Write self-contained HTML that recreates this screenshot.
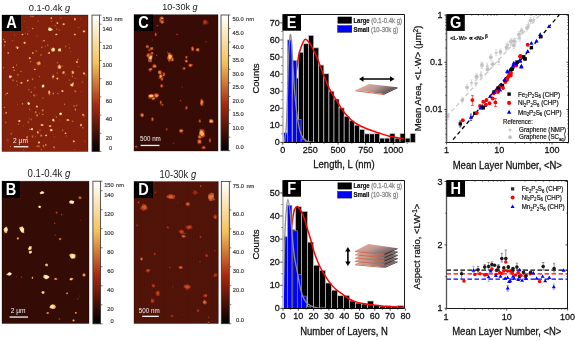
<!DOCTYPE html>
<html><head><meta charset="utf-8"><style>
html,body{margin:0;padding:0;background:#fff;overflow:hidden;}
svg{display:block;font-family:"Liberation Sans",sans-serif;will-change:transform;}
</style></head><body>
<svg width="575" height="341" viewBox="0 0 575 341" font-family="Liberation Sans, sans-serif"><defs><filter id="blur" x="-50%" y="-50%" width="200%" height="200%"><feGaussianBlur stdDeviation="0.45"/></filter><filter id="blur2" x="-50%" y="-50%" width="200%" height="200%"><feGaussianBlur stdDeviation="0.8"/></filter><pattern id="streak" width="3" height="4" patternUnits="userSpaceOnUse"><rect x="0" y="0" width="1" height="4" fill="#000" opacity="0.07"/></pattern><linearGradient id="cbg" x1="0" y1="0" x2="0" y2="1"><stop offset="0.000" stop-color="rgb(255, 255, 255)"/><stop offset="0.350" stop-color="rgb(243, 194, 93)"/><stop offset="0.660" stop-color="rgb(168, 40, 15)"/><stop offset="1.000" stop-color="rgb(0, 0, 0)"/></linearGradient></defs><rect x="2.00" y="15.00" width="86.00" height="136.50" fill="#84210d" />
<rect x="2" y="15" width="86" height="136.5" fill="url(#streak)" opacity="0.3"/>
<polygon points="49.68,31.07 47.89,30.00 48.65,27.32 50.63,27.71 52.66,29.30 52.26,30.52" fill="#f5cd7a" filter="url(#blur)"/>
<polygon points="51.74,29.47 50.50,30.81 49.38,30.18 48.67,29.72 49.15,28.74 50.71,28.13 51.38,28.63" fill="#fdf6e8" filter="url(#blur)"/>
<polygon points="57.99,24.07 57.47,24.05 56.26,23.56 56.42,22.65 56.76,22.12 57.82,21.96 58.36,22.92" fill="#d5843e" filter="url(#blur)"/>
<polygon points="57.40,22.66 57.97,22.65 58.17,23.55 57.61,23.82 56.91,23.68 56.85,23.08 57.07,22.67" fill="#f5cb74" filter="url(#blur)"/>
<polygon points="62.27,23.65 63.43,23.46 64.87,23.44 64.77,24.53 64.08,25.13 63.02,24.90 62.57,24.19" fill="#de9747" filter="url(#blur)"/>
<polygon points="64.26,23.63 64.24,24.19 64.15,24.58 63.75,24.91 62.84,24.64 62.92,24.07 63.14,23.53" fill="#f6d38b" filter="url(#blur)"/>
<polygon points="75.41,18.35 76.08,19.34 75.31,20.41 74.01,20.16 74.03,19.09 73.93,18.44 74.54,17.84" fill="#d5843e" filter="url(#blur)"/>
<polygon points="75.48,18.61 75.64,19.14 75.25,19.86 74.58,19.77 74.26,19.36 74.24,18.57 74.87,18.39" fill="#f5cb74" filter="url(#blur)"/>
<polygon points="50.49,18.45 50.50,17.83 50.78,17.53 51.75,17.04 52.04,17.99 52.23,18.57 51.42,19.24" fill="#d5843e" filter="url(#blur)"/>
<ellipse cx="51.3" cy="18.1" rx="0.56" ry="0.56" fill="#f5cb74" filter="url(#blur)"/>
<polygon points="57.71,34.63 56.89,35.34 55.45,35.30 55.26,34.40 56.06,33.77 56.89,33.82" fill="#de9747" filter="url(#blur)"/>
<polygon points="55.65,34.91 55.41,34.30 56.02,33.78 56.92,33.90 57.23,34.42 57.26,34.87 56.30,35.11" fill="#f6d38b" filter="url(#blur)"/>
<polygon points="22.19,33.79 23.31,33.96 23.37,35.26 22.06,35.14 21.19,34.24" fill="#d5843e" filter="url(#blur)"/>
<polygon points="22.23,33.94 22.74,33.92 23.28,34.44 22.97,34.78 22.38,35.03 22.00,34.79 21.84,34.41" fill="#f5cb74" filter="url(#blur)"/>
<polygon points="24.21,41.85 25.31,41.71 25.95,43.15 24.84,43.92 23.66,43.54 23.37,42.48" fill="#de9747" filter="url(#blur)"/>
<polygon points="24.30,43.20 23.77,42.77 24.14,42.12 24.69,41.96 25.21,42.25 25.11,43.14 24.84,43.50" fill="#f6d38b" filter="url(#blur)"/>
<polygon points="43.28,40.18 44.54,40.19 45.21,40.87 44.15,41.42 43.19,40.84" fill="#d5843e" filter="url(#blur)"/>
<ellipse cx="44.1" cy="40.7" rx="0.63" ry="0.49" fill="#f5cb74" filter="url(#blur)"/>
<polygon points="75.52,33.80 75.83,34.52 75.49,35.22 74.59,35.57 73.99,34.66 73.80,33.93 74.78,33.72" fill="#d5843e" filter="url(#blur)"/>
<ellipse cx="74.9" cy="34.5" rx="0.63" ry="0.63" fill="#f5cb74" filter="url(#blur)"/>
<polygon points="84.03,32.33 83.36,32.60 82.75,31.23 82.99,30.46 84.57,30.54 85.09,31.01 85.39,32.07" fill="#e7a950" filter="url(#blur)"/>
<polygon points="83.38,32.01 83.30,31.51 83.72,30.62 84.11,30.82 84.55,31.04 84.68,31.48 84.06,32.11" fill="#f8dca2" filter="url(#blur)"/>
<polygon points="4.09,41.15 5.27,40.76 5.79,41.66 5.79,42.57 4.56,42.49" fill="#d5843e" filter="url(#blur)"/>
<ellipse cx="5.1" cy="41.7" rx="0.56" ry="0.56" fill="#f5cb74" filter="url(#blur)"/>
<polygon points="18.17,48.60 17.71,49.28 16.80,48.54 16.08,47.26 16.60,46.77 17.88,46.45 18.72,47.37" fill="#f0bc5a" filter="url(#blur)"/>
<polygon points="17.09,48.40 16.75,47.84 17.09,46.92 17.93,47.26 18.08,47.84 17.60,48.67" fill="#fae5ba" filter="url(#blur)"/>
<polygon points="53.17,47.50 55.01,48.47 54.62,51.15 53.33,51.53 51.74,51.51 51.08,49.17" fill="#f5cd7a" filter="url(#blur)"/>
<polygon points="54.10,48.75 54.19,49.96 54.09,50.94 53.41,50.97 52.54,50.67 52.45,49.83 52.82,48.50" fill="#fdf6e8" filter="url(#blur)"/>
<polygon points="58.43,51.19 57.80,50.52 58.69,48.64 60.58,47.93 60.89,49.28 61.19,51.56" fill="#f4c669" filter="url(#blur)"/>
<polygon points="59.28,48.63 60.17,49.23 60.67,49.58 60.36,50.47 59.37,50.98 58.55,50.25 58.61,49.33" fill="#fceed1" filter="url(#blur)"/>
<polygon points="47.64,53.04 48.40,52.38 49.19,51.80 49.99,52.24 50.17,53.42 49.88,53.62 48.18,54.06" fill="#d5843e" filter="url(#blur)"/>
<polygon points="48.28,52.98 48.57,52.40 49.81,52.61 50.08,53.24 49.25,53.68" fill="#f5cb74" filter="url(#blur)"/>
<polygon points="32.49,52.23 33.07,52.06 33.77,52.49 33.52,53.14 32.88,53.70 32.24,53.72 31.88,52.74" fill="#d5843e" filter="url(#blur)"/>
<ellipse cx="32.8" cy="53.0" rx="0.56" ry="0.56" fill="#f5cb74" filter="url(#blur)"/>
<polygon points="9.22,53.01 8.71,53.43 8.27,54.11 7.46,53.29 7.25,52.89 8.11,52.29 8.52,52.13" fill="#d5843e" filter="url(#blur)"/>
<ellipse cx="8.2" cy="53.0" rx="0.56" ry="0.56" fill="#f5cb74" filter="url(#blur)"/>
<polygon points="30.58,57.83 30.86,58.72 30.03,59.25 29.03,58.83 28.86,58.06 29.35,57.08 29.93,57.28" fill="#de9747" filter="url(#blur)"/>
<polygon points="28.93,57.83 29.69,57.30 30.36,57.71 30.12,58.57 29.04,58.60" fill="#f6d38b" filter="url(#blur)"/>
<polygon points="40.45,62.09 40.95,63.70 39.97,65.21 37.15,65.19 36.06,62.79 37.89,61.72 39.09,60.87" fill="#c35f2b" filter="url(#blur)"/>
<polygon points="40.27,63.64 38.81,64.70 37.59,63.91 37.57,62.83 39.01,62.01 39.98,62.21" fill="#e7a950" filter="url(#blur)"/>
<polygon points="57.56,66.02 59.48,64.35 61.54,66.79 60.18,69.10 57.87,68.52" fill="#de9747" filter="url(#blur)"/>
<polygon points="59.29,66.02 60.44,66.22 60.58,68.13 59.29,68.53 58.47,67.19" fill="#f6d38b" filter="url(#blur)"/>
<polygon points="62.52,74.10 62.08,72.02 63.11,71.25 64.50,70.92 64.73,72.22 64.35,73.39 63.84,74.25" fill="#cc7134" filter="url(#blur)"/>
<polygon points="64.07,71.39 64.37,72.84 64.03,73.53 62.98,73.04 62.79,72.38 63.41,71.47" fill="#f3c25d" filter="url(#blur)"/>
<polygon points="74.18,72.65 73.07,74.08 71.73,74.35 71.76,73.15 71.42,71.19 72.71,70.44 74.15,71.64" fill="#d5843e" filter="url(#blur)"/>
<polygon points="73.69,72.67 73.06,73.60 72.41,73.30 72.15,72.40 72.33,71.35 72.79,71.60 73.70,71.84" fill="#f5cb74" filter="url(#blur)"/>
<polygon points="34.96,68.52 35.86,69.20 35.43,69.79 34.78,70.34 33.73,69.49 34.19,69.11" fill="#d5843e" filter="url(#blur)"/>
<ellipse cx="34.8" cy="69.4" rx="0.56" ry="0.56" fill="#f5cb74" filter="url(#blur)"/>
<polygon points="13.26,66.50 14.08,67.04 14.05,67.51 13.31,68.16 12.77,67.94 12.64,66.93" fill="#d5843e" filter="url(#blur)"/>
<ellipse cx="13.3" cy="67.3" rx="0.63" ry="0.63" fill="#f5cb74" filter="url(#blur)"/>
<polygon points="11.23,77.56 10.04,78.55 8.83,77.24 9.07,75.59 10.67,75.47 12.48,76.11" fill="#e7a950" filter="url(#blur)"/>
<polygon points="10.89,76.07 11.22,76.29 10.95,77.49 10.27,77.43 9.19,76.85 9.06,76.20 9.86,75.77" fill="#f8dca2" filter="url(#blur)"/>
<polygon points="54.21,77.16 53.20,77.87 51.75,77.31 52.31,76.53 53.12,75.37 54.08,75.76" fill="#e7a950" filter="url(#blur)"/>
<polygon points="54.31,76.43 54.05,77.07 53.43,77.26 52.67,77.11 52.56,76.28 53.17,75.85 53.81,75.72" fill="#f8dca2" filter="url(#blur)"/>
<polygon points="57.50,77.43 58.61,78.36 58.22,79.09 57.62,79.51 56.56,79.14 56.54,78.66 56.65,77.48" fill="#de9747" filter="url(#blur)"/>
<polygon points="57.16,79.38 56.67,79.00 56.89,78.03 57.79,77.91 57.90,78.41 57.84,79.01" fill="#f6d38b" filter="url(#blur)"/>
<polygon points="77.39,62.93 76.42,63.01 75.75,61.54 77.12,60.80 78.14,61.66" fill="#d5843e" filter="url(#blur)"/>
<polygon points="76.62,61.58 77.56,61.85 77.50,62.64 76.82,62.79 76.08,62.26" fill="#f5cb74" filter="url(#blur)"/>
<polygon points="84.14,74.81 83.22,73.92 82.72,72.94 83.98,71.94 84.37,72.55 85.56,73.71 85.21,74.32" fill="#d5843e" filter="url(#blur)"/>
<polygon points="84.53,72.81 84.63,73.64 84.50,74.18 84.07,74.14 83.26,73.63 83.58,72.85 83.96,72.87" fill="#f5cb74" filter="url(#blur)"/>
<polygon points="20.65,83.82 20.59,82.72 21.45,81.80 22.15,82.15 22.77,82.75 21.61,83.78" fill="#d5843e" filter="url(#blur)"/>
<polygon points="22.06,82.56 22.16,83.02 21.60,83.25 20.86,83.28 20.94,82.60 21.17,82.20 21.66,82.03" fill="#f5cb74" filter="url(#blur)"/>
<polygon points="28.55,79.87 28.63,80.54 28.19,81.35 27.85,81.70 26.94,80.93 26.85,80.65 27.35,79.81" fill="#e7a950" filter="url(#blur)"/>
<ellipse cx="27.7" cy="80.7" rx="0.63" ry="0.63" fill="#f8dca2" filter="url(#blur)"/>
<polygon points="74.20,84.20 73.34,84.85 71.81,84.52 71.60,83.09 73.26,82.74" fill="#d5843e" filter="url(#blur)"/>
<polygon points="73.82,83.67 73.40,84.32 72.35,84.40 71.90,83.91 72.27,83.32 73.02,83.29" fill="#f5cb74" filter="url(#blur)"/>
<polygon points="44.48,86.45 43.46,87.55 41.75,87.47 42.12,85.37 43.08,84.15 44.17,85.09" fill="#f6d081" filter="url(#blur)"/>
<polygon points="43.90,86.66 42.31,86.95 41.82,85.99 43.02,85.12 44.06,85.84" fill="#fefaf1" filter="url(#blur)"/>
<polygon points="20.94,83.96 20.55,83.04 20.45,82.52 21.17,82.26 22.29,82.25 22.35,83.14 22.06,83.47" fill="#d5843e" filter="url(#blur)"/>
<polygon points="20.83,82.60 21.82,82.39 22.20,82.68 22.14,83.24 21.84,83.52 21.07,83.34 20.85,83.03" fill="#f5cb74" filter="url(#blur)"/>
<polygon points="72.57,86.75 70.94,85.95 69.65,84.51 71.05,84.10 72.48,83.75 73.80,84.96 73.16,85.70" fill="#f0bc5a" filter="url(#blur)"/>
<polygon points="72.74,85.32 71.79,85.90 70.75,85.52 70.88,85.16 71.32,84.39 72.36,84.51 72.97,84.68" fill="#fae5ba" filter="url(#blur)"/>
<polygon points="63.75,91.58 63.18,91.84 62.44,92.14 61.37,91.24 60.84,90.74 62.75,89.88 63.36,90.68" fill="#de9747" filter="url(#blur)"/>
<polygon points="62.94,91.94 62.13,91.68 61.55,91.24 62.19,90.69 62.86,90.59 63.23,91.06" fill="#f6d38b" filter="url(#blur)"/>
<polygon points="49.57,90.66 50.36,92.31 50.14,93.64 49.13,94.87 48.11,93.31 48.28,91.45 49.00,90.02" fill="#d5843e" filter="url(#blur)"/>
<polygon points="48.90,93.34 48.60,91.83 48.88,91.00 49.52,90.77 49.86,91.61 49.59,92.92 49.30,93.58" fill="#f5cb74" filter="url(#blur)"/>
<polygon points="28.65,101.90 29.87,103.37 30.12,104.28 28.80,104.58 28.06,104.99 27.31,103.56 27.62,102.36" fill="#f6d081" filter="url(#blur)"/>
<polygon points="28.62,104.38 28.09,103.88 28.21,103.07 28.67,102.82 29.42,103.12 29.40,104.33" fill="#fefaf1" filter="url(#blur)"/>
<polygon points="59.46,114.63 59.25,113.27 60.82,112.50 62.03,113.34 61.61,114.68 60.55,115.25" fill="#f6d081" filter="url(#blur)"/>
<polygon points="59.53,113.77 60.01,113.31 60.81,112.87 61.36,113.62 61.19,114.39 60.46,114.56 60.08,114.30" fill="#fefaf1" filter="url(#blur)"/>
<polygon points="53.38,121.60 52.34,120.77 52.57,119.26 52.96,118.52 54.07,119.44 54.66,120.65" fill="#f6d081" filter="url(#blur)"/>
<polygon points="52.73,120.40 52.73,119.78 53.20,119.31 53.75,119.54 53.95,120.20 53.77,120.73 52.98,120.68" fill="#fefaf1" filter="url(#blur)"/>
<polygon points="83.56,114.00 84.38,114.70 83.91,115.74 82.59,115.91 82.11,114.64 82.60,113.70" fill="#de9747" filter="url(#blur)"/>
<polygon points="83.66,115.43 82.65,115.21 82.42,114.50 83.29,114.30 83.94,114.86" fill="#f6d38b" filter="url(#blur)"/>
<polygon points="66.83,120.83 66.13,120.10 67.25,119.25 68.07,119.01 69.65,120.01 69.11,120.77 67.76,121.09" fill="#de9747" filter="url(#blur)"/>
<polygon points="68.30,120.38 67.77,120.54 66.91,120.58 66.97,119.75 67.23,119.36 68.16,119.54 68.77,119.94" fill="#f6d38b" filter="url(#blur)"/>
<polygon points="35.75,107.03 36.04,106.05 36.96,105.25 37.87,106.25 37.99,107.15 36.85,107.57" fill="#de9747" filter="url(#blur)"/>
<polygon points="36.39,106.30 37.01,105.87 37.64,106.26 37.61,106.61 37.20,107.21 36.51,107.13 36.23,106.73" fill="#f6d38b" filter="url(#blur)"/>
<polygon points="19.55,121.91 18.38,121.66 18.18,120.30 19.69,120.19 20.94,120.90 20.43,121.35" fill="#e7a950" filter="url(#blur)"/>
<polygon points="20.07,121.24 19.29,121.68 18.83,121.55 18.63,121.03 18.91,120.41 19.61,120.35 20.13,120.63" fill="#f8dca2" filter="url(#blur)"/>
<polygon points="41.58,124.20 43.41,124.15 43.41,125.72 41.77,126.02 40.03,125.08" fill="#de9747" filter="url(#blur)"/>
<polygon points="41.12,124.61 41.83,124.32 43.06,124.80 42.77,125.36 42.20,125.72 40.97,125.50" fill="#f6d38b" filter="url(#blur)"/>
<polygon points="51.29,126.73 49.85,126.99 48.50,125.99 49.18,125.33 51.28,125.19" fill="#d5843e" filter="url(#blur)"/>
<polygon points="50.89,126.50 49.83,126.85 49.16,126.35 49.39,125.64 50.29,125.49 51.11,125.75" fill="#f5cb74" filter="url(#blur)"/>
<polygon points="32.58,128.06 32.95,128.82 32.58,130.17 31.61,130.23 30.29,129.55 30.96,128.59" fill="#f4c669" filter="url(#blur)"/>
<polygon points="32.71,129.05 31.89,130.03 30.92,129.51 31.11,128.71 32.27,128.47" fill="#fceed1" filter="url(#blur)"/>
<polygon points="50.12,131.19 49.81,129.46 51.03,128.81 52.27,129.23 52.87,130.45 51.37,131.22" fill="#e7a950" filter="url(#blur)"/>
<polygon points="50.79,129.87 51.59,129.43 52.19,130.29 51.68,130.91 50.55,130.49" fill="#f8dca2" filter="url(#blur)"/>
<polygon points="79.97,125.17 80.37,123.67 81.09,123.64 81.95,124.53 81.75,125.76 81.14,126.32 80.27,126.51" fill="#d5843e" filter="url(#blur)"/>
<polygon points="81.51,124.55 81.45,125.30 81.42,125.95 80.88,126.06 80.46,125.43 80.52,124.53 80.88,124.12" fill="#f5cb74" filter="url(#blur)"/>
<polygon points="37.53,131.29 38.38,131.11 38.78,132.61 38.49,133.86 37.30,133.69 36.89,131.73" fill="#d5843e" filter="url(#blur)"/>
<polygon points="38.39,132.17 38.27,133.17 37.94,133.09 37.40,133.02 37.24,131.97 37.62,131.52 38.00,131.41" fill="#f5cb74" filter="url(#blur)"/>
<polygon points="46.30,134.29 47.02,135.30 47.17,136.00 45.77,136.33 45.05,135.81 45.30,134.69" fill="#de9747" filter="url(#blur)"/>
<ellipse cx="46.1" cy="135.4" rx="0.63" ry="0.63" fill="#f6d38b" filter="url(#blur)"/>
<polygon points="39.10,143.97 37.98,143.06 37.96,141.53 39.79,141.21 39.91,142.70" fill="#d5843e" filter="url(#blur)"/>
<polygon points="38.41,142.01 38.88,141.74 39.66,141.97 39.69,142.68 39.28,143.23 38.51,143.15 38.19,142.81" fill="#f5cb74" filter="url(#blur)"/>
<polygon points="65.40,134.09 64.70,134.05 64.58,133.32 65.21,132.27 65.94,132.63 66.36,132.93 66.60,133.68" fill="#d5843e" filter="url(#blur)"/>
<ellipse cx="65.6" cy="133.3" rx="0.63" ry="0.63" fill="#f5cb74" filter="url(#blur)"/>
<polygon points="75.15,141.63 74.52,142.12 73.66,142.60 72.86,142.18 72.86,141.36 73.42,140.10 74.08,140.35" fill="#d5843e" filter="url(#blur)"/>
<polygon points="74.53,141.72 73.81,142.10 73.32,141.95 73.06,141.24 73.77,140.65 74.45,140.99" fill="#f5cb74" filter="url(#blur)"/>
<polygon points="7.60,94.09 6.72,94.25 6.48,92.96 6.97,92.47 7.73,92.91" fill="#d5843e" filter="url(#blur)"/>
<ellipse cx="7.1" cy="93.3" rx="0.56" ry="0.56" fill="#f5cb74" filter="url(#blur)"/>
<polygon points="5.40,113.58 5.29,112.64 6.40,111.83 7.00,112.77 6.68,113.59" fill="#d5843e" filter="url(#blur)"/>
<ellipse cx="6.1" cy="112.8" rx="0.56" ry="0.56" fill="#f5cb74" filter="url(#blur)"/>
<ellipse cx="29.2" cy="30.9" rx="0.49" ry="0.58" fill="#bb4f23" opacity="0.85"/>
<ellipse cx="21.0" cy="71.4" rx="0.64" ry="0.65" fill="#dd9446" opacity="0.85"/>
<ellipse cx="42.7" cy="110.3" rx="0.88" ry="1.38" fill="#d27e3a" opacity="0.85"/>
<ellipse cx="16.8" cy="81.3" rx="0.66" ry="0.80" fill="#d3813c" opacity="0.85"/>
<ellipse cx="51.0" cy="48.0" rx="0.57" ry="0.56" fill="#ca6e33" opacity="0.85"/>
<ellipse cx="29.6" cy="109.4" rx="0.62" ry="0.94" fill="#d07a39" opacity="0.85"/>
<ellipse cx="49.7" cy="94.8" rx="0.47" ry="0.68" fill="#e19d4a" opacity="0.85"/>
<ellipse cx="24.0" cy="38.2" rx="0.53" ry="0.43" fill="#bd5325" opacity="0.85"/>
<ellipse cx="37.1" cy="36.2" rx="0.69" ry="0.60" fill="#bc5124" opacity="0.85"/>
<ellipse cx="39.6" cy="113.3" rx="0.61" ry="0.66" fill="#c4612c" opacity="0.85"/>
<ellipse cx="59.7" cy="120.1" rx="0.49" ry="0.69" fill="#b7461e" opacity="0.85"/>
<ellipse cx="82.9" cy="127.8" rx="0.64" ry="0.83" fill="#d5853e" opacity="0.85"/>
<ellipse cx="33.0" cy="16.4" rx="0.81" ry="0.89" fill="#cf7737" opacity="0.85"/>
<ellipse cx="73.3" cy="82.8" rx="0.56" ry="0.60" fill="#e3a24d" opacity="0.85"/>
<ellipse cx="19.0" cy="24.1" rx="0.73" ry="1.00" fill="#e4a34d" opacity="0.85"/>
<ellipse cx="4.4" cy="45.5" rx="0.81" ry="0.96" fill="#bf5727" opacity="0.85"/>
<ellipse cx="23.4" cy="149.9" rx="0.51" ry="0.72" fill="#be5425" opacity="0.85"/>
<ellipse cx="77.8" cy="59.6" rx="0.69" ry="0.95" fill="#da8e43" opacity="0.85"/>
<ellipse cx="32.6" cy="79.3" rx="0.82" ry="0.93" fill="#ce7737" opacity="0.85"/>
<ellipse cx="54.9" cy="115.9" rx="0.45" ry="0.41" fill="#c86930" opacity="0.85"/>
<ellipse cx="32.5" cy="136.6" rx="0.88" ry="1.31" fill="#ca6e33" opacity="0.85"/>
<ellipse cx="59.3" cy="29.9" rx="0.54" ry="0.56" fill="#d6863f" opacity="0.85"/>
<ellipse cx="51.4" cy="21.5" rx="0.63" ry="0.54" fill="#cd7435" opacity="0.85"/>
<ellipse cx="75.4" cy="109.7" rx="0.71" ry="1.10" fill="#e09b49" opacity="0.85"/>
<ellipse cx="57.9" cy="93.5" rx="0.59" ry="0.87" fill="#e2a04c" opacity="0.85"/>
<ellipse cx="69.0" cy="44.5" rx="0.47" ry="0.52" fill="#bf5727" opacity="0.85"/>
<ellipse cx="28.3" cy="122.3" rx="0.87" ry="1.07" fill="#c6652e" opacity="0.85"/>
<ellipse cx="18.5" cy="124.2" rx="0.53" ry="0.78" fill="#d4833d" opacity="0.85"/>
<ellipse cx="31.2" cy="92.1" rx="0.71" ry="0.84" fill="#dd9647" opacity="0.85"/>
<ellipse cx="41.2" cy="135.6" rx="0.85" ry="1.17" fill="#df9948" opacity="0.85"/>
<ellipse cx="39.1" cy="146.3" rx="0.84" ry="1.08" fill="#c96b31" opacity="0.85"/>
<ellipse cx="4.4" cy="107.3" rx="0.70" ry="0.57" fill="#e6a74f" opacity="0.85"/>
<ellipse cx="55.1" cy="25.4" rx="0.54" ry="0.67" fill="#d27e3b" opacity="0.85"/>
<ellipse cx="37.1" cy="115.4" rx="0.77" ry="1.07" fill="#e7a850" opacity="0.85"/>
<ellipse cx="23.1" cy="125.9" rx="0.48" ry="0.58" fill="#c4622d" opacity="0.85"/>
<ellipse cx="29.5" cy="129.4" rx="0.56" ry="0.71" fill="#dd9546" opacity="0.85"/>
<ellipse cx="65.6" cy="46.4" rx="0.81" ry="0.91" fill="#c25d2a" opacity="0.85"/>
<ellipse cx="5.6" cy="94.5" rx="0.70" ry="1.03" fill="#ba4e22" opacity="0.85"/>
<ellipse cx="27.7" cy="34.1" rx="0.71" ry="0.79" fill="#db9044" opacity="0.85"/>
<ellipse cx="57.5" cy="62.6" rx="0.84" ry="0.89" fill="#c4612c" opacity="0.85"/>
<ellipse cx="61.0" cy="17.4" rx="0.51" ry="0.65" fill="#bc5224" opacity="0.85"/>
<ellipse cx="74.1" cy="106.1" rx="0.72" ry="0.80" fill="#e09b49" opacity="0.85"/>
<ellipse cx="64.5" cy="104.4" rx="0.70" ry="0.82" fill="#ce7737" opacity="0.85"/>
<ellipse cx="66.5" cy="136.0" rx="0.55" ry="0.84" fill="#b84920" opacity="0.85"/>
<ellipse cx="54.3" cy="136.9" rx="0.47" ry="0.39" fill="#e4a34d" opacity="0.85"/>
<ellipse cx="69.3" cy="80.1" rx="0.57" ry="0.89" fill="#c7672f" opacity="0.85"/>
<ellipse cx="84.6" cy="141.2" rx="0.69" ry="0.79" fill="#bb4e22" opacity="0.85"/>
<ellipse cx="78.5" cy="66.7" rx="0.83" ry="0.67" fill="#ba4c21" opacity="0.85"/>
<ellipse cx="62.7" cy="130.2" rx="0.61" ry="0.64" fill="#e5a54e" opacity="0.85"/>
<ellipse cx="17.8" cy="104.7" rx="0.51" ry="0.47" fill="#cd7435" opacity="0.85"/>
<ellipse cx="29.3" cy="118.7" rx="0.46" ry="0.56" fill="#e19d4a" opacity="0.85"/>
<ellipse cx="31.3" cy="119.4" rx="0.71" ry="0.96" fill="#c5642d" opacity="0.85"/>
<ellipse cx="11.3" cy="133.7" rx="0.89" ry="1.02" fill="#c35f2b" opacity="0.85"/>
<ellipse cx="39.4" cy="76.5" rx="0.57" ry="0.67" fill="#d4823d" opacity="0.85"/>
<ellipse cx="74.7" cy="149.4" rx="0.52" ry="0.70" fill="#b84920" opacity="0.85"/>
<ellipse cx="34.5" cy="95.6" rx="0.87" ry="1.25" fill="#c05a28" opacity="0.85"/>
<ellipse cx="10.5" cy="146.5" rx="0.64" ry="0.61" fill="#e5a64f" opacity="0.85"/>
<ellipse cx="27.1" cy="137.3" rx="0.82" ry="1.23" fill="#df9848" opacity="0.85"/>
<ellipse cx="32.7" cy="28.6" rx="0.86" ry="0.76" fill="#dd9446" opacity="0.85"/>
<ellipse cx="60.9" cy="18.5" rx="0.52" ry="0.47" fill="#d27e3a" opacity="0.85"/>
<ellipse cx="53.2" cy="75.3" rx="0.77" ry="0.76" fill="#cc7134" opacity="0.85"/>
<ellipse cx="17.9" cy="74.7" rx="0.73" ry="0.93" fill="#d37f3b" opacity="0.85"/>
<ellipse cx="14.2" cy="70.2" rx="0.80" ry="0.76" fill="#db9044" opacity="0.85"/>
<ellipse cx="78.7" cy="27.6" rx="0.52" ry="0.64" fill="#cf7838" opacity="0.85"/>
<ellipse cx="54.0" cy="147.3" rx="0.81" ry="1.22" fill="#d6863f" opacity="0.85"/>
<ellipse cx="3.7" cy="113.5" rx="0.55" ry="0.55" fill="#b84a20" opacity="0.85"/>
<ellipse cx="41.0" cy="55.0" rx="0.77" ry="0.64" fill="#e09b49" opacity="0.85"/>
<ellipse cx="35.0" cy="87.8" rx="0.66" ry="1.02" fill="#bc5124" opacity="0.85"/>
<ellipse cx="82.3" cy="82.1" rx="0.72" ry="0.94" fill="#bf5727" opacity="0.85"/>
<ellipse cx="57.2" cy="73.1" rx="0.66" ry="1.02" fill="#c25d2a" opacity="0.85"/>
<ellipse cx="47.8" cy="45.1" rx="0.59" ry="0.85" fill="#d5853e" opacity="0.85"/>
<ellipse cx="42.7" cy="114.4" rx="0.81" ry="0.71" fill="#d6873f" opacity="0.85"/>
<ellipse cx="3.7" cy="39.5" rx="0.65" ry="0.69" fill="#dd9546" opacity="0.85"/>
<ellipse cx="5.4" cy="122.4" rx="0.65" ry="0.98" fill="#c05827" opacity="0.85"/>
<ellipse cx="16.7" cy="65.1" rx="0.56" ry="0.79" fill="#d4813c" opacity="0.85"/>
<ellipse cx="33.6" cy="95.2" rx="0.51" ry="0.68" fill="#d88b41" opacity="0.85"/>
<ellipse cx="83.9" cy="115.8" rx="0.90" ry="1.18" fill="#c05928" opacity="0.85"/>
<ellipse cx="42.8" cy="97.8" rx="0.57" ry="0.86" fill="#c86930" opacity="0.85"/>
<ellipse cx="35.6" cy="136.3" rx="0.51" ry="0.67" fill="#c7682f" opacity="0.85"/>
<ellipse cx="65.7" cy="74.9" rx="0.50" ry="0.59" fill="#cc7234" opacity="0.85"/>
<ellipse cx="54.2" cy="121.2" rx="0.84" ry="0.73" fill="#c15c29" opacity="0.85"/>
<ellipse cx="14.7" cy="35.0" rx="0.56" ry="0.57" fill="#c86a30" opacity="0.85"/>
<ellipse cx="9.7" cy="149.8" rx="0.58" ry="0.55" fill="#b94a20" opacity="0.85"/>
<ellipse cx="77.2" cy="105.1" rx="0.49" ry="0.74" fill="#bf5827" opacity="0.85"/>
<ellipse cx="24.7" cy="21.6" rx="0.54" ry="0.45" fill="#c6662e" opacity="0.85"/>
<ellipse cx="75.3" cy="91.2" rx="0.88" ry="1.28" fill="#ca6f33" opacity="0.85"/>
<ellipse cx="41.3" cy="149.4" rx="0.89" ry="1.01" fill="#b7461e" opacity="0.85"/>
<ellipse cx="4.3" cy="18.4" rx="0.74" ry="0.97" fill="#e09b49" opacity="0.85"/>
<ellipse cx="43.5" cy="146.0" rx="0.85" ry="1.34" fill="#cf7838" opacity="0.85"/>
<ellipse cx="56.3" cy="117.0" rx="0.51" ry="0.79" fill="#df9848" opacity="0.85"/>
<ellipse cx="86.2" cy="75.7" rx="0.48" ry="0.76" fill="#be5626" opacity="0.85"/>
<ellipse cx="76.3" cy="105.7" rx="0.62" ry="0.66" fill="#d07938" opacity="0.85"/>
<ellipse cx="36.5" cy="94.8" rx="0.69" ry="0.59" fill="#bb4f23" opacity="0.85"/>
<ellipse cx="72.5" cy="121.2" rx="0.79" ry="0.78" fill="#cd7435" opacity="0.85"/>
<ellipse cx="36.3" cy="51.1" rx="0.72" ry="0.99" fill="#c86a31" opacity="0.85"/>
<ellipse cx="8.0" cy="140.4" rx="0.50" ry="0.79" fill="#d27d3a" opacity="0.85"/>
<ellipse cx="40.0" cy="130.2" rx="0.56" ry="0.72" fill="#da8f43" opacity="0.85"/>
<ellipse cx="45.5" cy="46.5" rx="0.55" ry="0.44" fill="#d5833d" opacity="0.85"/>
<ellipse cx="72.5" cy="76.5" rx="0.74" ry="1.01" fill="#cc7234" opacity="0.85"/>
<ellipse cx="13.0" cy="80.3" rx="0.80" ry="1.09" fill="#c96b31" opacity="0.85"/>
<ellipse cx="3.6" cy="67.7" rx="0.56" ry="0.64" fill="#dd9546" opacity="0.85"/>
<ellipse cx="75.3" cy="78.4" rx="0.52" ry="0.61" fill="#c25d2a" opacity="0.85"/>
<ellipse cx="53.3" cy="93.5" rx="0.68" ry="0.92" fill="#e3a04c" opacity="0.85"/>
<ellipse cx="52.8" cy="78.4" rx="0.59" ry="0.80" fill="#c7672f" opacity="0.85"/>
<ellipse cx="38.1" cy="21.0" rx="0.61" ry="0.76" fill="#c96c32" opacity="0.85"/>
<ellipse cx="30.8" cy="16.3" rx="0.74" ry="1.08" fill="#c86a30" opacity="0.85"/>
<ellipse cx="81.0" cy="91.4" rx="0.56" ry="0.49" fill="#bf5827" opacity="0.85"/>
<ellipse cx="73.3" cy="121.2" rx="0.50" ry="0.43" fill="#ba4d22" opacity="0.85"/>
<ellipse cx="62.2" cy="65.8" rx="0.78" ry="0.89" fill="#bb4f23" opacity="0.85"/>
<ellipse cx="37.0" cy="146.5" rx="0.49" ry="0.76" fill="#e6a74f" opacity="0.85"/>
<ellipse cx="17.4" cy="85.0" rx="0.53" ry="0.63" fill="#ca6d32" opacity="0.85"/>
<ellipse cx="6.8" cy="138.9" rx="0.54" ry="0.56" fill="#b7471f" opacity="0.85"/>
<ellipse cx="12.7" cy="40.7" rx="0.54" ry="0.76" fill="#c35e2b" opacity="0.85"/>
<ellipse cx="42.7" cy="41.2" rx="0.58" ry="0.59" fill="#c05928" opacity="0.85"/>
<ellipse cx="30.6" cy="61.7" rx="0.71" ry="0.79" fill="#d3803b" opacity="0.85"/>
<ellipse cx="16.4" cy="46.9" rx="0.90" ry="0.96" fill="#c6662e" opacity="0.85"/>
<ellipse cx="27.4" cy="27.6" rx="0.56" ry="0.46" fill="#c6662e" opacity="0.85"/>
<ellipse cx="35.7" cy="112.2" rx="0.89" ry="1.17" fill="#cd7435" opacity="0.85"/>
<ellipse cx="69.6" cy="47.9" rx="0.56" ry="0.87" fill="#c4612c" opacity="0.85"/>
<ellipse cx="25.3" cy="33.3" rx="0.47" ry="0.52" fill="#d17b39" opacity="0.85"/>
<ellipse cx="45.8" cy="145.0" rx="0.81" ry="0.92" fill="#de9647" opacity="0.85"/>
<ellipse cx="22.5" cy="103.7" rx="0.69" ry="0.94" fill="#dc9245" opacity="0.85"/>
<ellipse cx="37.6" cy="145.9" rx="0.68" ry="0.73" fill="#ca6d32" opacity="0.85"/>
<ellipse cx="41.9" cy="47.3" rx="0.82" ry="0.84" fill="#cc7335" opacity="0.85"/>
<ellipse cx="56.7" cy="29.1" rx="0.80" ry="1.21" fill="#b94a20" opacity="0.85"/>
<ellipse cx="28.8" cy="89.7" rx="0.68" ry="0.82" fill="#d78940" opacity="0.85"/>
<ellipse cx="70.3" cy="51.8" rx="0.53" ry="0.48" fill="#cf7938" opacity="0.85"/>
<ellipse cx="80.4" cy="18.9" rx="0.51" ry="0.48" fill="#c86a31" opacity="0.85"/>
<ellipse cx="6.2" cy="122.5" rx="0.71" ry="0.72" fill="#bc5124" opacity="0.85"/>
<ellipse cx="44.8" cy="66.1" rx="0.47" ry="0.43" fill="#cb7134" opacity="0.85"/>
<rect x="2.00" y="15.00" width="86.00" height="136.50" fill="none" stroke="#000" stroke-opacity="0.45" stroke-width="0.7"/>
<rect x="2.00" y="15.00" width="19.00" height="16.00" fill="#000" />
<text x="11.50" y="27.80" font-size="14.6" text-anchor="middle" fill="#fff" font-weight="bold" font-style="normal"  transform="translate(0 27.80) scale(1 1.08) translate(0 -27.80)">A</text>
<text x="28.80" y="10.90" font-size="9.3" fill="#1a1a1a" stroke="none" transform="translate(0 10.90) scale(1 1.07) translate(0 -10.90)">0.1-0.4k<tspan font-style="italic" stroke="none"> g</tspan></text>
<text x="13.10" y="143.10" font-size="6.6" fill="#f0f0f0" transform="translate(0 143.10) scale(1 1.08) translate(0 -143.10)">2 μm</text>
<rect x="13.80" y="146.10" width="14.50" height="1.30" fill="#f4f4f4" />
<rect x="92.00" y="15.10" width="7.50" height="136.40" fill="url(#cbg)" stroke="#333" stroke-width="0.8"/>
<line x1="99.50" y1="15.10" x2="101.50" y2="15.10" stroke="#444" stroke-width="0.7" />
<text x="112.20" y="21.30" font-size="5.8" fill="#3a3a3a" text-anchor="end" stroke="#3a3a3a" stroke-width="0.18" transform="translate(0 21.30) scale(1 1.08) translate(0 -21.30)">150</text>
<text x="114.50" y="21.30" font-size="5.8" fill="#3a3a3a" stroke="#3a3a3a" stroke-width="0.18" transform="translate(0 21.30) scale(1 1.08) translate(0 -21.30)">nm</text>
<line x1="99.50" y1="24.19" x2="101.50" y2="24.19" stroke="#444" stroke-width="0.7" />
<text x="112.20" y="30.59" font-size="5.8" fill="#3a3a3a" text-anchor="end" stroke="#3a3a3a" stroke-width="0.18" transform="translate(0 30.59) scale(1 1.08) translate(0 -30.59)">140</text>
<line x1="99.50" y1="42.37" x2="101.50" y2="42.37" stroke="#444" stroke-width="0.7" />
<text x="112.20" y="48.77" font-size="5.8" fill="#3a3a3a" text-anchor="end" stroke="#3a3a3a" stroke-width="0.18" transform="translate(0 48.77) scale(1 1.08) translate(0 -48.77)">120</text>
<line x1="99.50" y1="60.55" x2="101.50" y2="60.55" stroke="#444" stroke-width="0.7" />
<text x="112.20" y="66.95" font-size="5.8" fill="#3a3a3a" text-anchor="end" stroke="#3a3a3a" stroke-width="0.18" transform="translate(0 66.95) scale(1 1.08) translate(0 -66.95)">100</text>
<line x1="99.50" y1="78.73" x2="101.50" y2="78.73" stroke="#444" stroke-width="0.7" />
<text x="112.20" y="85.13" font-size="5.8" fill="#3a3a3a" text-anchor="end" stroke="#3a3a3a" stroke-width="0.18" transform="translate(0 85.13) scale(1 1.08) translate(0 -85.13)">80</text>
<line x1="99.50" y1="96.91" x2="101.50" y2="96.91" stroke="#444" stroke-width="0.7" />
<text x="112.20" y="103.31" font-size="5.8" fill="#3a3a3a" text-anchor="end" stroke="#3a3a3a" stroke-width="0.18" transform="translate(0 103.31) scale(1 1.08) translate(0 -103.31)">60</text>
<line x1="99.50" y1="115.09" x2="101.50" y2="115.09" stroke="#444" stroke-width="0.7" />
<text x="112.20" y="121.49" font-size="5.8" fill="#3a3a3a" text-anchor="end" stroke="#3a3a3a" stroke-width="0.18" transform="translate(0 121.49) scale(1 1.08) translate(0 -121.49)">40</text>
<line x1="99.50" y1="133.27" x2="101.50" y2="133.27" stroke="#444" stroke-width="0.7" />
<text x="112.20" y="139.67" font-size="5.8" fill="#3a3a3a" text-anchor="end" stroke="#3a3a3a" stroke-width="0.18" transform="translate(0 139.67) scale(1 1.08) translate(0 -139.67)">20</text>
<line x1="99.50" y1="151.45" x2="101.50" y2="151.45" stroke="#444" stroke-width="0.7" />
<text x="112.20" y="150.25" font-size="5.8" fill="#3a3a3a" text-anchor="end" stroke="#3a3a3a" stroke-width="0.18" transform="translate(0 150.25) scale(1 1.08) translate(0 -150.25)">0</text>
<rect x="2.00" y="181.20" width="87.00" height="142.30" fill="#340c05" />
<rect x="2" y="181.2" width="87" height="142.3" fill="url(#streak)" opacity="0.5"/>
<polygon points="40.70,194.24 39.54,192.71 41.99,191.26 44.37,191.91 43.87,193.47" fill="#f5cd7a" filter="url(#blur)"/>
<polygon points="43.06,192.91 42.22,193.64 41.34,193.45 40.62,192.35 41.10,191.69 42.54,191.50 43.13,192.44" fill="#fdf6e8" filter="url(#blur)"/>
<polygon points="68.90,201.85 70.64,200.29 74.25,200.98 73.90,202.70 73.07,204.03 69.81,203.58" fill="#f5cd7a" filter="url(#blur)"/>
<polygon points="71.14,200.87 73.50,201.52 73.31,203.00 72.19,202.91 70.74,202.84 69.90,201.83" fill="#fdf6e8" filter="url(#blur)"/>
<polygon points="81.21,198.49 80.04,199.47 79.03,199.03 77.97,197.51 79.20,196.30 81.11,196.41 81.93,197.77" fill="#b03918" filter="url(#blur)"/>
<polygon points="80.06,198.81 79.34,198.24 79.27,197.58 79.78,196.82 80.94,197.40 81.27,198.34" fill="#cf7737" filter="url(#blur)"/>
<polygon points="38.70,207.68 38.23,206.12 40.06,205.58 40.85,206.55 40.53,208.16" fill="#f5cd7a" filter="url(#blur)"/>
<polygon points="40.57,206.42 40.45,207.00 39.72,207.80 39.06,207.53 38.66,206.83 39.07,206.02 39.78,206.12" fill="#fdf6e8" filter="url(#blur)"/>
<polygon points="7.74,229.21 7.70,230.17 6.82,233.02 4.68,232.85 3.53,229.64 4.92,227.56 6.89,226.53" fill="#f4c669" filter="url(#blur)"/>
<polygon points="4.64,230.37 4.18,228.83 5.39,228.05 6.89,228.57 7.49,229.79 6.41,231.01 5.56,230.99" fill="#fceed1" filter="url(#blur)"/>
<polygon points="18.97,227.72 22.20,226.32 24.09,228.56 24.19,233.33 21.27,232.31" fill="#f4c669" filter="url(#blur)"/>
<polygon points="19.86,229.17 21.89,227.18 23.55,228.51 23.89,230.69 22.56,232.19 20.82,230.83" fill="#fceed1" filter="url(#blur)"/>
<polygon points="17.67,239.90 17.25,239.17 16.79,238.19 17.02,237.18 18.39,237.14 18.99,238.18 18.62,239.50" fill="#c35f2b" filter="url(#blur)"/>
<polygon points="18.00,237.48 18.60,238.09 18.56,238.68 17.93,239.29 17.12,238.68 16.94,238.06" fill="#e7a950" filter="url(#blur)"/>
<polygon points="58.76,239.96 59.06,238.58 60.39,237.98 61.44,238.25 61.15,239.66 59.68,240.28" fill="#ba4c21" filter="url(#blur)"/>
<polygon points="60.15,238.33 60.73,238.79 60.67,239.54 60.30,239.66 59.45,239.33 59.34,238.60" fill="#db9044" filter="url(#blur)"/>
<polygon points="29.44,246.25 31.72,246.36 31.54,249.24 28.75,250.43 28.00,248.67" fill="#f4c669" filter="url(#blur)"/>
<polygon points="31.03,247.32 30.83,248.08 30.31,249.39 29.82,249.32 28.98,248.73 28.99,247.02 29.80,246.83" fill="#fceed1" filter="url(#blur)"/>
<polygon points="55.17,212.39 56.48,211.27 57.89,212.30 57.68,213.39 56.27,213.65 55.74,213.37" fill="#94230d" filter="url(#blur)"/>
<polygon points="56.01,212.39 56.67,211.80 57.19,212.28 57.06,213.28 56.40,213.46 56.00,213.00" fill="#b7461e" filter="url(#blur)"/>
<polygon points="29.58,253.92 28.74,251.90 29.23,250.91 31.63,250.74 32.11,252.75 30.84,253.33" fill="#f4c669" filter="url(#blur)"/>
<polygon points="29.36,251.89 30.42,251.18 31.31,252.21 30.38,253.37 29.69,252.98" fill="#fceed1" filter="url(#blur)"/>
<polygon points="75.18,258.13 72.01,258.73 70.79,258.09 69.14,254.74 71.51,253.60 74.55,254.02 75.65,255.08" fill="#f4c669" filter="url(#blur)"/>
<polygon points="71.21,255.61 72.62,254.26 74.44,256.00 74.24,257.57 71.94,258.29 71.14,256.84" fill="#fceed1" filter="url(#blur)"/>
<polygon points="44.96,264.42 46.86,263.34 47.98,264.56 48.02,266.23 45.60,266.24" fill="#d5843e" filter="url(#blur)"/>
<polygon points="47.52,264.19 47.54,265.19 47.48,265.58 45.67,265.66 45.65,265.15 45.54,264.00 46.66,264.00" fill="#f5cb74" filter="url(#blur)"/>
<polygon points="10.92,274.90 9.49,275.85 6.15,274.76 8.04,273.00 9.59,272.02 12.04,273.38" fill="#f6d081" filter="url(#blur)"/>
<polygon points="7.89,274.32 8.22,273.10 10.33,273.13 11.14,273.39 10.57,274.53 9.11,275.06" fill="#fefaf1" filter="url(#blur)"/>
<polygon points="49.25,277.77 46.78,279.15 45.21,279.00 43.11,277.37 43.94,274.69 46.81,275.10 49.39,276.42" fill="#f4c669" filter="url(#blur)"/>
<polygon points="45.27,278.50 44.42,277.23 45.53,275.55 46.88,275.42 48.53,276.79 48.20,277.38 47.15,278.23" fill="#fceed1" filter="url(#blur)"/>
<polygon points="31.58,277.96 32.07,276.82 32.69,276.68 33.24,277.59 32.78,278.99 31.95,278.59" fill="#d5843e" filter="url(#blur)"/>
<polygon points="32.44,278.39 31.85,277.74 32.17,277.30 33.11,277.39 33.14,277.96" fill="#f5cb74" filter="url(#blur)"/>
<polygon points="55.84,279.95 53.70,279.14 54.81,278.06 56.17,277.74 57.68,279.61" fill="#c35f2b" filter="url(#blur)"/>
<polygon points="54.66,279.17 54.76,278.54 56.15,278.01 56.62,279.03 56.33,279.63" fill="#e7a950" filter="url(#blur)"/>
<polygon points="72.75,278.00 73.49,278.82 71.94,280.35 69.77,280.35 69.50,279.42 70.63,277.76" fill="#de9747" filter="url(#blur)"/>
<polygon points="70.99,278.52 72.11,278.67 71.94,279.71 70.82,280.30 70.04,279.44 69.75,278.91" fill="#f6d38b" filter="url(#blur)"/>
<polygon points="85.23,276.46 84.03,276.31 82.74,275.89 82.38,274.57 83.64,273.22 84.79,273.30 85.57,274.91" fill="#cc7134" filter="url(#blur)"/>
<polygon points="84.47,274.13 84.90,275.03 84.16,275.91 83.22,275.86 82.88,275.13 83.48,274.39" fill="#f3c25d" filter="url(#blur)"/>
<polygon points="43.71,290.91 44.82,292.25 43.85,293.92 42.50,294.06 41.25,292.46 41.72,291.72 43.01,291.11" fill="#e7a950" filter="url(#blur)"/>
<polygon points="42.00,292.99 41.75,291.93 42.75,291.50 43.72,292.25 43.29,292.98" fill="#f8dca2" filter="url(#blur)"/>
<polygon points="67.52,292.40 68.16,292.68 67.84,293.79 66.98,294.50 65.98,294.07 66.28,293.43 66.53,292.28" fill="#c35f2b" filter="url(#blur)"/>
<polygon points="67.86,293.11 67.70,293.65 67.35,293.94 66.51,293.77 66.62,293.16 67.10,292.81" fill="#e7a950" filter="url(#blur)"/>
<polygon points="49.53,307.68 50.05,305.87 52.19,304.33 54.63,304.64 56.06,306.94 54.29,308.88 50.69,308.61" fill="#f0bc5a" filter="url(#blur)"/>
<polygon points="53.08,307.88 52.20,308.59 50.23,307.01 51.06,305.39 52.65,305.01 54.33,306.04" fill="#fae5ba" filter="url(#blur)"/>
<polygon points="47.61,313.97 46.04,313.29 46.63,312.40 47.56,311.91 49.12,312.81 49.23,313.59" fill="#c35f2b" filter="url(#blur)"/>
<polygon points="46.84,312.88 47.56,312.34 48.31,312.28 48.58,313.07 47.79,313.61 46.89,313.42" fill="#e7a950" filter="url(#blur)"/>
<polygon points="74.98,313.37 74.90,312.12 76.66,312.08 76.92,312.97 75.57,314.12" fill="#c35f2b" filter="url(#blur)"/>
<polygon points="75.24,313.13 75.28,312.50 75.76,312.07 76.39,312.66 76.44,313.38 75.81,313.52" fill="#e7a950" filter="url(#blur)"/>
<polygon points="72.48,320.92 72.35,319.79 74.05,319.19 74.51,320.23 74.36,321.37 73.19,321.83" fill="#cc7134" filter="url(#blur)"/>
<polygon points="74.45,320.72 73.44,321.31 72.92,320.67 73.07,319.74 74.17,319.93" fill="#f3c25d" filter="url(#blur)"/>
<ellipse cx="61.7" cy="214.6" rx="0.63" ry="0.96" fill="#c05928" opacity="0.85"/>
<ellipse cx="77.6" cy="298.7" rx="0.87" ry="0.79" fill="#98240e" opacity="0.85"/>
<ellipse cx="79.7" cy="295.9" rx="0.51" ry="0.51" fill="#a8280f" opacity="0.85"/>
<ellipse cx="20.6" cy="198.4" rx="0.51" ry="0.43" fill="#a5270f" opacity="0.85"/>
<ellipse cx="16.5" cy="276.8" rx="0.59" ry="0.53" fill="#a92a10" opacity="0.85"/>
<ellipse cx="80.7" cy="220.3" rx="0.47" ry="0.50" fill="#aa2b11" opacity="0.85"/>
<ellipse cx="59.5" cy="318.8" rx="0.85" ry="0.89" fill="#b33f1b" opacity="0.85"/>
<ellipse cx="54.7" cy="223.2" rx="0.76" ry="0.64" fill="#bc5124" opacity="0.85"/>
<ellipse cx="21.6" cy="277.3" rx="0.61" ry="0.79" fill="#b5431d" opacity="0.85"/>
<ellipse cx="55.2" cy="235.0" rx="0.62" ry="0.55" fill="#c15c29" opacity="0.85"/>
<ellipse cx="5.1" cy="233.2" rx="0.65" ry="0.61" fill="#96240d" opacity="0.85"/>
<ellipse cx="83.3" cy="276.6" rx="0.63" ry="0.53" fill="#95230d" opacity="0.85"/>
<rect x="2.00" y="181.20" width="87.00" height="142.30" fill="none" stroke="#000" stroke-opacity="0.45" stroke-width="0.7"/>
<rect x="2.00" y="181.20" width="18.00" height="16.70" fill="#000" />
<text x="11.00" y="194.70" font-size="14.6" text-anchor="middle" fill="#fff" font-weight="bold" font-style="normal"  transform="translate(0 194.70) scale(1 1.08) translate(0 -194.70)">B</text>
<text x="27.60" y="176.90" font-size="9.6" fill="#1a1a1a" stroke="none" transform="translate(0 176.90) scale(1 1.07) translate(0 -176.90)">0.1-0.4k<tspan font-style="italic" stroke="none"> g</tspan></text>
<text x="10.70" y="313.10" font-size="6.6" fill="#f0f0f0" transform="translate(0 313.10) scale(1 1.08) translate(0 -313.10)">2 μm</text>
<rect x="9.60" y="316.40" width="18.40" height="1.30" fill="#f4f4f4" />
<rect x="92.90" y="181.20" width="7.70" height="142.60" fill="url(#cbg)" stroke="#333" stroke-width="0.8"/>
<line x1="100.60" y1="181.20" x2="102.60" y2="181.20" stroke="#444" stroke-width="0.7" />
<text x="113.80" y="187.40" font-size="5.8" fill="#3a3a3a" text-anchor="end" stroke="#3a3a3a" stroke-width="0.18" transform="translate(0 187.40) scale(1 1.08) translate(0 -187.40)">150</text>
<text x="116.10" y="187.40" font-size="5.8" fill="#3a3a3a" stroke="#3a3a3a" stroke-width="0.18" transform="translate(0 187.40) scale(1 1.08) translate(0 -187.40)">nm</text>
<line x1="100.60" y1="190.71" x2="102.60" y2="190.71" stroke="#444" stroke-width="0.7" />
<text x="113.80" y="197.11" font-size="5.8" fill="#3a3a3a" text-anchor="end" stroke="#3a3a3a" stroke-width="0.18" transform="translate(0 197.11) scale(1 1.08) translate(0 -197.11)">140</text>
<line x1="100.60" y1="209.72" x2="102.60" y2="209.72" stroke="#444" stroke-width="0.7" />
<text x="113.80" y="216.12" font-size="5.8" fill="#3a3a3a" text-anchor="end" stroke="#3a3a3a" stroke-width="0.18" transform="translate(0 216.12) scale(1 1.08) translate(0 -216.12)">120</text>
<line x1="100.60" y1="228.73" x2="102.60" y2="228.73" stroke="#444" stroke-width="0.7" />
<text x="113.80" y="235.13" font-size="5.8" fill="#3a3a3a" text-anchor="end" stroke="#3a3a3a" stroke-width="0.18" transform="translate(0 235.13) scale(1 1.08) translate(0 -235.13)">100</text>
<line x1="100.60" y1="247.75" x2="102.60" y2="247.75" stroke="#444" stroke-width="0.7" />
<text x="113.80" y="254.15" font-size="5.8" fill="#3a3a3a" text-anchor="end" stroke="#3a3a3a" stroke-width="0.18" transform="translate(0 254.15) scale(1 1.08) translate(0 -254.15)">80</text>
<line x1="100.60" y1="266.76" x2="102.60" y2="266.76" stroke="#444" stroke-width="0.7" />
<text x="113.80" y="273.16" font-size="5.8" fill="#3a3a3a" text-anchor="end" stroke="#3a3a3a" stroke-width="0.18" transform="translate(0 273.16) scale(1 1.08) translate(0 -273.16)">60</text>
<line x1="100.60" y1="285.78" x2="102.60" y2="285.78" stroke="#444" stroke-width="0.7" />
<text x="113.80" y="292.18" font-size="5.8" fill="#3a3a3a" text-anchor="end" stroke="#3a3a3a" stroke-width="0.18" transform="translate(0 292.18) scale(1 1.08) translate(0 -292.18)">40</text>
<line x1="100.60" y1="304.79" x2="102.60" y2="304.79" stroke="#444" stroke-width="0.7" />
<text x="113.80" y="311.19" font-size="5.8" fill="#3a3a3a" text-anchor="end" stroke="#3a3a3a" stroke-width="0.18" transform="translate(0 311.19) scale(1 1.08) translate(0 -311.19)">20</text>
<line x1="100.60" y1="323.80" x2="102.60" y2="323.80" stroke="#444" stroke-width="0.7" />
<text x="113.80" y="322.60" font-size="5.8" fill="#3a3a3a" text-anchor="end" stroke="#3a3a3a" stroke-width="0.18" transform="translate(0 322.60) scale(1 1.08) translate(0 -322.60)">0</text>
<rect x="134.00" y="14.70" width="84.00" height="136.30" fill="#390b05" />
<rect x="134" y="14.7" width="84" height="136.3" fill="url(#streak)" opacity="0.5"/>
<polygon points="163.79,19.42 160.78,20.23 159.12,18.04 161.66,16.04 163.88,17.47" fill="#ad3214" filter="url(#blur)"/>
<polygon points="160.46,18.76 160.40,17.40 162.54,17.55 163.56,18.68 161.50,19.21" fill="#e29f4b" filter="url(#blur)"/>
<polygon points="161.91,23.87 159.93,22.14 161.10,19.65 163.94,19.92 164.33,23.07" fill="#9c250e" filter="url(#blur)"/>
<polygon points="161.17,20.89 161.99,20.62 163.20,21.57 163.65,22.50 162.39,23.38 161.35,23.22 161.10,22.34" fill="#d17c3a" filter="url(#blur)"/>
<polygon points="159.26,20.32 159.81,17.43 161.06,19.09 160.92,22.20 159.81,22.87" fill="#8d220d" filter="url(#blur)"/>
<polygon points="159.77,21.50 159.51,19.73 160.43,18.35 160.94,19.70 160.48,22.57" fill="#c5642d" filter="url(#blur)"/>
<polygon points="158.32,25.56 157.97,26.32 156.58,26.42 156.22,25.06 157.39,24.20" fill="#741c0a" filter="url(#blur)"/>
<polygon points="157.07,25.13 157.96,25.10 158.27,25.70 157.66,26.12 157.27,26.29 156.82,25.50" fill="#b23c19" filter="url(#blur)"/>
<polygon points="156.86,32.97 157.09,35.67 155.23,36.02 154.21,34.64 155.57,32.36" fill="#8d220d" filter="url(#blur)"/>
<polygon points="154.99,35.14 155.07,34.08 155.46,32.98 156.28,33.68 156.39,34.14 156.01,35.69 155.29,35.80" fill="#c5642d" filter="url(#blur)"/>
<polygon points="205.45,24.75 202.77,24.63 202.66,21.57 203.87,19.57 205.90,19.52 208.26,20.95 207.78,24.37" fill="#741c0a" filter="url(#blur)"/>
<polygon points="205.10,20.35 206.34,21.16 206.65,21.90 205.83,23.64 204.65,23.95 203.79,23.11 203.47,21.79" fill="#b23c19" filter="url(#blur)"/>
<polygon points="175.99,34.71 176.63,33.44 178.44,34.16 177.55,35.23 176.59,35.28" fill="#741c0a" filter="url(#blur)"/>
<polygon points="176.61,35.03 176.54,34.28 177.28,33.73 177.92,34.25 177.51,35.20" fill="#b23c19" filter="url(#blur)"/>
<polygon points="146.35,45.06 147.70,44.48 149.02,45.98 148.96,48.26 147.19,48.60 145.19,47.23" fill="#8d220d" filter="url(#blur)"/>
<polygon points="148.28,47.53 146.28,47.46 146.19,45.83 147.91,45.27 148.88,46.39" fill="#c5642d" filter="url(#blur)"/>
<polygon points="153.41,49.99 151.39,50.16 149.45,49.04 150.23,47.00 153.52,47.10" fill="#93230d" filter="url(#blur)"/>
<polygon points="150.10,49.44 150.44,47.67 152.65,47.24 153.01,48.76 151.78,49.63" fill="#ca6e32" filter="url(#blur)"/>
<polygon points="149.61,48.57 150.81,50.08 149.97,51.33 148.66,51.05 147.87,49.97" fill="#7e1e0b" filter="url(#blur)"/>
<polygon points="149.92,49.40 150.70,49.99 149.87,50.80 149.08,50.96 148.40,50.50 148.83,49.42" fill="#b94b21" filter="url(#blur)"/>
<polygon points="168.59,52.27 169.95,52.42 171.29,53.49 170.24,55.17 168.77,55.03 167.03,53.59" fill="#9c250e" filter="url(#blur)"/>
<polygon points="168.23,53.23 169.63,53.05 170.14,53.85 169.97,54.46 168.45,54.07" fill="#d17c3a" filter="url(#blur)"/>
<polygon points="148.47,56.47 150.61,52.90 152.68,55.11 152.45,57.12 151.59,62.30 148.32,61.98 148.04,57.78" fill="#bc5124" filter="url(#blur)"/>
<polygon points="148.64,57.73 149.83,55.23 152.16,56.53 151.41,59.04 150.10,59.60" fill="#f4c76b" filter="url(#blur)"/>
<polygon points="147.60,57.85 145.82,55.66 147.48,52.69 150.01,53.33 150.63,55.78 148.98,57.32" fill="#9c250e" filter="url(#blur)"/>
<polygon points="149.60,54.67 149.49,56.95 147.97,56.79 146.86,55.74 147.87,53.78" fill="#d17c3a" filter="url(#blur)"/>
<polygon points="151.62,51.98 152.92,51.81 153.36,52.69 154.04,54.31 152.48,54.57 151.19,54.47 150.43,52.92" fill="#9c250e" filter="url(#blur)"/>
<polygon points="152.99,52.85 152.82,53.84 151.67,54.07 151.29,52.78 151.77,52.11" fill="#d17c3a" filter="url(#blur)"/>
<polygon points="168.94,62.20 166.79,58.04 168.88,53.07 172.34,54.41 173.23,59.10" fill="#b6441d" filter="url(#blur)"/>
<polygon points="168.29,57.03 168.74,54.36 172.13,55.70 171.14,58.61 168.98,59.43" fill="#f1bd5a" filter="url(#blur)"/>
<polygon points="171.75,57.82 174.10,58.34 173.76,60.53 171.65,62.36 170.76,59.87" fill="#9c250e" filter="url(#blur)"/>
<polygon points="173.41,61.02 172.28,60.98 171.61,60.12 171.39,58.54 172.87,58.18 173.26,58.82" fill="#d17c3a" filter="url(#blur)"/>
<polygon points="191.20,51.40 191.31,49.73 190.79,47.43 192.89,45.78 193.97,47.58 194.26,50.62 192.86,50.95" fill="#9c250e" filter="url(#blur)"/>
<polygon points="193.30,50.49 192.26,50.23 191.67,48.94 191.72,47.32 193.12,47.42 193.62,49.14" fill="#d17c3a" filter="url(#blur)"/>
<polygon points="196.40,48.49 198.34,47.71 199.37,49.20 199.41,51.58 198.09,52.03 195.65,50.43" fill="#a5270f" filter="url(#blur)"/>
<polygon points="198.46,48.33 199.00,49.92 198.28,50.86 196.41,50.80 196.49,48.98" fill="#d88b41" filter="url(#blur)"/>
<polygon points="186.47,55.71 187.67,56.70 187.41,58.35 185.85,58.99 185.29,57.89 185.54,55.64" fill="#93230d" filter="url(#blur)"/>
<polygon points="185.73,58.00 185.69,56.70 186.34,56.29 187.10,56.16 187.31,57.49 186.62,58.16" fill="#ca6e32" filter="url(#blur)"/>
<polygon points="187.00,62.50 185.76,62.67 184.51,60.82 185.00,59.81 187.26,59.57 187.56,60.37 187.78,61.49" fill="#a5270f" filter="url(#blur)"/>
<polygon points="185.98,60.14 186.86,60.50 187.68,61.25 186.87,62.28 185.71,61.95 185.38,61.01" fill="#d88b41" filter="url(#blur)"/>
<polygon points="192.66,64.02 192.84,65.85 190.82,67.41 188.50,66.76 188.31,64.86 189.29,63.57" fill="#a5270f" filter="url(#blur)"/>
<polygon points="189.17,65.76 189.31,64.52 190.74,64.35 191.64,64.45 191.59,65.52 191.01,66.22 189.95,66.13" fill="#d88b41" filter="url(#blur)"/>
<polygon points="184.86,66.86 186.01,68.03 184.67,69.92 182.80,69.68 182.17,68.06" fill="#93230d" filter="url(#blur)"/>
<polygon points="183.39,67.57 184.22,67.61 184.95,67.70 185.29,68.79 184.69,69.19 183.78,69.21 183.13,68.33" fill="#ca6e32" filter="url(#blur)"/>
<polygon points="154.46,63.44 156.77,65.60 156.40,67.12 153.73,67.86 152.30,67.54 152.55,64.83" fill="#a5270f" filter="url(#blur)"/>
<polygon points="154.27,67.44 152.89,66.66 153.18,65.40 155.04,65.31 156.39,66.35 155.75,67.43" fill="#d88b41" filter="url(#blur)"/>
<polygon points="150.48,67.61 151.85,68.05 152.79,69.50 151.11,71.13 150.26,71.93 148.22,70.71 148.32,68.89" fill="#9c250e" filter="url(#blur)"/>
<polygon points="149.99,70.48 149.17,69.81 149.37,68.72 150.35,68.47 151.51,68.36 152.09,69.35 150.91,70.25" fill="#d17c3a" filter="url(#blur)"/>
<polygon points="160.30,74.45 158.02,73.76 157.89,72.12 159.18,69.89 160.41,69.89 162.93,71.96 162.36,73.55" fill="#9c250e" filter="url(#blur)"/>
<polygon points="160.94,72.10 160.98,73.73 160.29,73.99 158.80,73.80 158.26,72.48 158.27,71.31 160.23,70.76" fill="#d17c3a" filter="url(#blur)"/>
<polygon points="162.54,76.46 162.19,75.55 162.80,72.78 164.27,71.85 165.06,72.88 165.43,76.04 164.81,76.47" fill="#8d220d" filter="url(#blur)"/>
<polygon points="164.19,72.92 165.03,74.34 164.17,75.71 162.99,76.02 162.77,74.39 163.03,73.30" fill="#c5642d" filter="url(#blur)"/>
<polygon points="160.90,78.77 158.52,78.38 158.83,75.71 159.63,74.17 161.94,74.43 163.31,78.00" fill="#b13b19" filter="url(#blur)"/>
<polygon points="159.73,75.78 160.58,74.86 162.07,75.69 161.36,77.67 159.89,77.79" fill="#e9ae53" filter="url(#blur)"/>
<polygon points="163.30,77.09 163.41,79.59 162.29,81.51 160.26,79.88 161.27,77.20" fill="#9c250e" filter="url(#blur)"/>
<polygon points="162.92,79.50 161.90,80.04 161.15,79.15 161.26,77.81 162.55,78.23" fill="#d17c3a" filter="url(#blur)"/>
<polygon points="205.71,41.00 206.51,41.30 206.68,42.12 205.92,42.76 205.08,41.87" fill="#681909" filter="url(#blur)"/>
<ellipse cx="205.9" cy="41.7" rx="0.52" ry="0.52" fill="#a8280f" filter="url(#blur)"/>
<polygon points="161.77,83.96 163.31,84.61 163.44,86.98 161.32,87.89 160.14,87.00 159.99,84.46" fill="#93230d" filter="url(#blur)"/>
<polygon points="162.64,86.05 162.13,87.33 160.98,86.74 160.62,85.61 161.75,84.61" fill="#ca6e32" filter="url(#blur)"/>
<polygon points="148.09,96.36 148.25,94.80 151.73,93.94 154.83,94.51 155.40,96.68 151.28,98.26 148.91,98.69" fill="#b94a20" filter="url(#blur)"/>
<polygon points="152.57,97.04 150.44,97.33 148.80,96.18 149.52,94.91 151.93,94.56 153.48,95.80" fill="#f3c462" filter="url(#blur)"/>
<polygon points="158.35,93.54 159.14,95.84 156.58,98.63 154.08,96.86 154.65,92.88" fill="#aa2c11" filter="url(#blur)"/>
<polygon points="155.67,96.88 154.68,95.49 155.13,94.88 156.28,94.05 158.61,94.89 157.98,96.31 157.08,97.06" fill="#dd9546" filter="url(#blur)"/>
<polygon points="154.77,99.95 152.60,100.54 150.82,98.17 153.90,96.54 155.12,97.54" fill="#9c250e" filter="url(#blur)"/>
<polygon points="152.65,97.42 154.14,97.46 155.20,98.41 153.85,99.53 152.51,99.43 151.89,98.34" fill="#d17c3a" filter="url(#blur)"/>
<polygon points="160.66,105.71 159.66,103.74 159.76,101.69 161.08,99.85 161.62,101.69 162.10,103.52" fill="#8d220d" filter="url(#blur)"/>
<polygon points="161.33,103.09 160.48,103.83 159.85,102.48 160.16,101.18 161.39,101.26" fill="#c5642d" filter="url(#blur)"/>
<polygon points="161.10,105.05 162.42,103.21 163.54,104.39 163.39,105.94 161.86,105.88" fill="#7e1e0b" filter="url(#blur)"/>
<polygon points="163.27,104.26 163.32,105.37 162.81,105.80 162.02,105.54 161.69,104.98 161.93,104.62 162.37,104.23" fill="#b94b21" filter="url(#blur)"/>
<polygon points="204.23,101.63 203.33,106.02 200.68,105.97 199.88,100.87 201.56,98.04" fill="#a5270f" filter="url(#blur)"/>
<polygon points="200.36,103.90 201.07,100.13 202.64,100.25 202.98,102.25 201.91,105.22" fill="#d88b41" filter="url(#blur)"/>
<polygon points="185.84,105.47 186.54,105.70 188.21,107.40 187.35,109.31 186.78,110.06 185.31,110.05 184.97,107.90" fill="#87200c" filter="url(#blur)"/>
<polygon points="186.01,106.66 186.43,106.41 187.18,107.08 187.03,108.69 186.57,108.87 185.91,109.10 185.75,107.62" fill="#c05a28" filter="url(#blur)"/>
<polygon points="141.86,117.32 139.47,115.04 141.21,112.70 143.39,113.24 144.10,116.14" fill="#a5270f" filter="url(#blur)"/>
<polygon points="142.21,113.48 143.40,114.42 143.19,116.30 141.71,116.85 140.91,114.91" fill="#d88b41" filter="url(#blur)"/>
<polygon points="153.27,117.76 153.82,120.56 152.67,121.71 151.13,120.68 150.79,118.58 152.13,117.26" fill="#93230d" filter="url(#blur)"/>
<polygon points="151.85,117.70 153.14,117.74 153.27,118.35 153.23,120.20 152.51,120.40 152.03,119.84 151.67,119.03" fill="#ca6e32" filter="url(#blur)"/>
<polygon points="209.13,119.33 211.63,118.70 213.19,120.07 213.91,122.71 210.09,123.00 209.07,122.01" fill="#b33e1a" filter="url(#blur)"/>
<polygon points="211.14,119.66 213.03,120.65 212.65,122.23 209.90,122.61 209.38,120.96" fill="#ecb355" filter="url(#blur)"/>
<polygon points="199.76,119.37 200.67,119.39 201.23,122.22 199.77,122.82 199.06,122.42 198.49,120.84" fill="#87200c" filter="url(#blur)"/>
<polygon points="199.09,122.26 198.70,120.61 199.20,120.20 199.90,119.31 200.39,120.44 200.67,121.52 200.05,122.25" fill="#c05a28" filter="url(#blur)"/>
<polygon points="180.82,128.82 182.49,128.90 183.74,130.76 182.32,132.86 179.58,132.86 178.84,130.70" fill="#a5270f" filter="url(#blur)"/>
<polygon points="181.43,129.82 182.98,130.71 181.36,132.25 179.82,131.29 179.46,129.73" fill="#d88b41" filter="url(#blur)"/>
<polygon points="199.72,128.75 204.36,129.79 205.27,136.58 199.96,138.82 198.99,134.46" fill="#b33e1a" filter="url(#blur)"/>
<polygon points="201.79,136.32 199.68,135.68 199.53,133.02 200.45,130.59 202.30,130.44 203.83,133.37 203.91,134.88" fill="#ecb355" filter="url(#blur)"/>
<polygon points="201.20,136.79 199.54,139.89 197.96,137.97 197.74,135.35 200.52,134.55" fill="#9c250e" filter="url(#blur)"/>
<polygon points="198.11,136.16 199.32,135.48 200.50,135.87 200.95,137.28 199.90,138.28 198.74,137.77 198.36,137.02" fill="#d17c3a" filter="url(#blur)"/>
<polygon points="197.75,139.40 200.55,139.07 201.34,139.83 201.52,143.70 200.58,144.24 197.79,144.27 197.04,140.92" fill="#a5270f" filter="url(#blur)"/>
<polygon points="198.98,142.90 198.26,142.30 198.45,140.06 200.12,140.21 201.22,142.05 200.40,142.83" fill="#d88b41" filter="url(#blur)"/>
<polygon points="210.33,142.77 208.68,142.44 208.87,139.16 209.46,138.21 210.54,137.20 211.15,139.04 211.10,141.79" fill="#87200c" filter="url(#blur)"/>
<polygon points="209.07,140.80 209.37,138.68 210.58,139.62 210.70,141.06 209.80,142.35" fill="#c05a28" filter="url(#blur)"/>
<polygon points="206.15,147.83 204.94,149.08 201.26,148.95 201.66,145.97 204.55,145.74" fill="#93230d" filter="url(#blur)"/>
<polygon points="202.86,146.79 204.63,146.40 204.95,147.69 204.11,148.95 202.70,148.21" fill="#ca6e32" filter="url(#blur)"/>
<polygon points="134.28,146.67 135.82,145.27 136.86,145.16 137.63,146.61 137.38,147.98 136.31,147.82 134.53,147.32" fill="#87200c" filter="url(#blur)"/>
<polygon points="136.51,147.55 135.57,147.24 135.12,146.49 136.22,145.88 136.71,146.36" fill="#c05a28" filter="url(#blur)"/>
<ellipse cx="182.4" cy="133.4" rx="0.49" ry="0.61" fill="#9d250e" opacity="0.85"/>
<ellipse cx="166.7" cy="129.2" rx="0.89" ry="1.27" fill="#b23c19" opacity="0.85"/>
<ellipse cx="182.1" cy="87.0" rx="0.58" ry="0.86" fill="#95230d" opacity="0.85"/>
<ellipse cx="180.5" cy="100.6" rx="0.81" ry="0.89" fill="#ae3415" opacity="0.85"/>
<ellipse cx="136.8" cy="26.5" rx="0.59" ry="0.55" fill="#95240d" opacity="0.85"/>
<ellipse cx="173.5" cy="143.5" rx="0.74" ry="0.94" fill="#93230d" opacity="0.85"/>
<ellipse cx="152.3" cy="39.9" rx="0.53" ry="0.51" fill="#b4401b" opacity="0.85"/>
<ellipse cx="167.5" cy="52.0" rx="0.66" ry="0.88" fill="#8b210c" opacity="0.85"/>
<ellipse cx="156.6" cy="55.3" rx="0.73" ry="0.81" fill="#b6441d" opacity="0.85"/>
<ellipse cx="208.1" cy="23.0" rx="0.57" ry="0.73" fill="#90220d" opacity="0.85"/>
<rect x="134.00" y="14.70" width="84.00" height="136.30" fill="none" stroke="#000" stroke-opacity="0.45" stroke-width="0.7"/>
<rect x="134.00" y="14.70" width="19.00" height="16.30" fill="#000" />
<text x="143.50" y="27.80" font-size="14.6" text-anchor="middle" fill="#fff" font-weight="bold" font-style="normal"  transform="translate(0 27.80) scale(1 1.08) translate(0 -27.80)">C</text>
<text x="162.20" y="10.00" font-size="9.1" fill="#1a1a1a" stroke="none" transform="translate(0 10.00) scale(1 1.07) translate(0 -10.00)">10-30k<tspan font-style="italic" stroke="none"> g</tspan></text>
<text x="140.00" y="141.30" font-size="6.25" fill="#f0f0f0" transform="translate(0 141.30) scale(1 1.08) translate(0 -141.30)">500 nm</text>
<rect x="140.60" y="144.80" width="18.90" height="1.30" fill="#f4f4f4" />
<rect x="221.00" y="15.00" width="7.50" height="135.70" fill="url(#cbg)" stroke="#333" stroke-width="0.8"/>
<line x1="228.50" y1="15.00" x2="230.50" y2="15.00" stroke="#444" stroke-width="0.7" />
<text x="243.70" y="21.20" font-size="5.8" fill="#3a3a3a" text-anchor="end" stroke="#3a3a3a" stroke-width="0.18" transform="translate(0 21.20) scale(1 1.08) translate(0 -21.20)">50.0</text>
<text x="246.00" y="21.20" font-size="5.8" fill="#3a3a3a" stroke="#3a3a3a" stroke-width="0.18" transform="translate(0 21.20) scale(1 1.08) translate(0 -21.20)">nm</text>
<line x1="228.50" y1="28.57" x2="230.50" y2="28.57" stroke="#444" stroke-width="0.7" />
<text x="243.70" y="34.97" font-size="5.8" fill="#3a3a3a" text-anchor="end" stroke="#3a3a3a" stroke-width="0.18" transform="translate(0 34.97) scale(1 1.08) translate(0 -34.97)">45.0</text>
<line x1="228.50" y1="42.14" x2="230.50" y2="42.14" stroke="#444" stroke-width="0.7" />
<text x="243.70" y="48.54" font-size="5.8" fill="#3a3a3a" text-anchor="end" stroke="#3a3a3a" stroke-width="0.18" transform="translate(0 48.54) scale(1 1.08) translate(0 -48.54)">40.0</text>
<line x1="228.50" y1="55.71" x2="230.50" y2="55.71" stroke="#444" stroke-width="0.7" />
<text x="243.70" y="62.11" font-size="5.8" fill="#3a3a3a" text-anchor="end" stroke="#3a3a3a" stroke-width="0.18" transform="translate(0 62.11) scale(1 1.08) translate(0 -62.11)">35.0</text>
<line x1="228.50" y1="69.28" x2="230.50" y2="69.28" stroke="#444" stroke-width="0.7" />
<text x="243.70" y="75.68" font-size="5.8" fill="#3a3a3a" text-anchor="end" stroke="#3a3a3a" stroke-width="0.18" transform="translate(0 75.68) scale(1 1.08) translate(0 -75.68)">30.0</text>
<line x1="228.50" y1="82.85" x2="230.50" y2="82.85" stroke="#444" stroke-width="0.7" />
<text x="243.70" y="89.25" font-size="5.8" fill="#3a3a3a" text-anchor="end" stroke="#3a3a3a" stroke-width="0.18" transform="translate(0 89.25) scale(1 1.08) translate(0 -89.25)">25.0</text>
<line x1="228.50" y1="96.42" x2="230.50" y2="96.42" stroke="#444" stroke-width="0.7" />
<text x="243.70" y="102.82" font-size="5.8" fill="#3a3a3a" text-anchor="end" stroke="#3a3a3a" stroke-width="0.18" transform="translate(0 102.82) scale(1 1.08) translate(0 -102.82)">20.0</text>
<line x1="228.50" y1="109.99" x2="230.50" y2="109.99" stroke="#444" stroke-width="0.7" />
<text x="243.70" y="116.39" font-size="5.8" fill="#3a3a3a" text-anchor="end" stroke="#3a3a3a" stroke-width="0.18" transform="translate(0 116.39) scale(1 1.08) translate(0 -116.39)">15.0</text>
<line x1="228.50" y1="123.56" x2="230.50" y2="123.56" stroke="#444" stroke-width="0.7" />
<text x="243.70" y="129.96" font-size="5.8" fill="#3a3a3a" text-anchor="end" stroke="#3a3a3a" stroke-width="0.18" transform="translate(0 129.96) scale(1 1.08) translate(0 -129.96)">10.0</text>
<line x1="228.50" y1="137.13" x2="230.50" y2="137.13" stroke="#444" stroke-width="0.7" />
<line x1="228.50" y1="150.70" x2="230.50" y2="150.70" stroke="#444" stroke-width="0.7" />
<text x="243.70" y="149.30" font-size="5.8" fill="#3a3a3a" text-anchor="end" stroke="#3a3a3a" stroke-width="0.18" transform="translate(0 149.30) scale(1 1.08) translate(0 -149.30)">0.0</text>
<rect x="134.00" y="181.60" width="84.30" height="141.90" fill="#521408" />
<rect x="134" y="181.6" width="84.30000000000001" height="141.9" fill="url(#streak)" opacity="0.7"/>
<polygon points="165.85,197.13 167.38,194.88 170.30,194.03 174.96,195.21 175.22,197.38 173.66,199.29 168.93,198.61" fill="#af3616" filter="url(#blur)"/>
<polygon points="170.09,195.29 172.32,195.24 173.11,196.71 172.18,198.23 169.96,198.44 167.86,197.23 169.11,195.44" fill="#c5642d" filter="url(#blur)"/>
<polygon points="192.10,192.93 193.53,190.18 195.67,190.18 198.84,192.64 196.11,194.56 194.16,195.32" fill="#821f0c" filter="url(#blur)"/>
<polygon points="196.80,192.86 196.00,193.88 194.13,193.96 193.51,192.28 194.29,191.01 196.38,191.36" fill="#a3270f" filter="url(#blur)"/>
<polygon points="211.30,192.61 213.83,193.29 214.11,197.43 214.97,199.92 209.66,201.16 208.29,198.72 208.09,195.30" fill="#b84a20" filter="url(#blur)"/>
<polygon points="213.16,194.48 213.36,196.99 210.54,199.84 208.24,197.53 208.94,195.38" fill="#d17c3a" filter="url(#blur)"/>
<polygon points="189.58,203.03 189.94,205.51 186.66,206.05 185.25,203.95 186.43,202.56 188.95,202.06" fill="#af3616" filter="url(#blur)"/>
<polygon points="188.85,203.29 189.18,204.41 188.24,205.14 186.57,204.67 186.23,203.65 187.25,202.90 188.30,202.40" fill="#c5642d" filter="url(#blur)"/>
<polygon points="139.86,208.20 143.16,203.41 146.44,205.06 147.84,209.00 143.17,211.00" fill="#af3616" filter="url(#blur)"/>
<polygon points="142.20,205.90 145.39,205.29 146.40,207.72 144.95,209.38 142.48,208.06" fill="#c5642d" filter="url(#blur)"/>
<polygon points="215.08,219.08 212.91,217.23 214.10,214.68 215.29,214.25 217.11,216.05 216.44,219.22" fill="#a2270e" filter="url(#blur)"/>
<polygon points="214.43,218.05 214.34,216.51 214.48,215.14 215.93,215.92 216.30,216.69 215.88,218.54 215.47,218.90" fill="#b94b21" filter="url(#blur)"/>
<polygon points="136.11,225.70 136.21,224.72 137.65,224.18 138.39,225.56 137.15,226.12" fill="#8e220d" filter="url(#blur)"/>
<polygon points="136.98,225.99 136.61,225.34 136.80,224.73 137.28,224.70 137.72,225.04 137.84,225.65 137.47,225.78" fill="#ad3214" filter="url(#blur)"/>
<polygon points="166.67,226.31 168.12,226.01 168.83,227.51 169.04,228.65 167.43,228.55 166.31,227.27" fill="#8e220d" filter="url(#blur)"/>
<polygon points="168.25,226.86 168.61,227.62 167.56,228.04 166.76,227.69 167.32,226.81" fill="#ad3214" filter="url(#blur)"/>
<polygon points="192.51,228.18 188.53,229.57 186.78,229.23 185.30,226.47 188.83,225.11 192.10,225.57" fill="#a2270e" filter="url(#blur)"/>
<polygon points="188.72,228.77 187.94,228.30 187.43,227.14 188.48,226.02 189.73,225.98 190.85,226.67 190.61,227.99" fill="#b94b21" filter="url(#blur)"/>
<polygon points="183.65,230.33 184.54,233.97 181.01,233.87 178.21,231.31 180.17,229.89" fill="#a2270e" filter="url(#blur)"/>
<polygon points="180.12,232.90 180.27,230.93 181.66,230.30 183.35,231.69 181.78,233.47" fill="#b94b21" filter="url(#blur)"/>
<polygon points="186.43,236.71 183.94,237.70 181.54,236.72 181.38,234.78 184.23,234.67" fill="#af3616" filter="url(#blur)"/>
<polygon points="183.71,237.52 182.26,237.16 182.51,235.84 182.91,235.35 184.31,235.22 184.90,236.38" fill="#c5642d" filter="url(#blur)"/>
<polygon points="199.40,237.02 199.50,236.14 200.34,235.79 201.61,236.04 201.52,237.43 200.73,238.09 199.87,237.66" fill="#8e220d" filter="url(#blur)"/>
<polygon points="200.48,236.21 201.06,236.54 201.30,237.09 201.01,237.56 200.31,237.69 199.90,237.30 199.92,236.67" fill="#ad3214" filter="url(#blur)"/>
<polygon points="154.14,191.18 156.32,191.37 156.53,192.70 155.42,193.60 154.37,194.05 153.91,192.75" fill="#731b0a" filter="url(#blur)"/>
<polygon points="155.10,191.88 155.71,192.21 155.94,192.81 155.18,193.41 154.63,193.07 154.29,192.00" fill="#8f220d" filter="url(#blur)"/>
<polygon points="140.78,257.60 142.57,257.72 142.80,259.15 141.67,260.58 140.23,259.62" fill="#bc5224" filter="url(#blur)"/>
<polygon points="142.29,258.84 142.30,259.35 141.48,260.13 140.63,259.55 140.86,258.47 141.64,258.36" fill="#d6863f" filter="url(#blur)"/>
<polygon points="153.72,254.96 153.57,253.31 154.80,252.13 156.27,253.71 155.42,255.05" fill="#8e220d" filter="url(#blur)"/>
<polygon points="153.80,254.55 153.90,253.82 154.55,253.24 155.43,253.49 155.48,254.26 154.53,254.76" fill="#ad3214" filter="url(#blur)"/>
<polygon points="208.30,255.73 207.64,257.43 205.43,256.72 205.52,254.03 206.80,253.65" fill="#8e220d" filter="url(#blur)"/>
<polygon points="207.64,255.08 207.11,256.63 205.82,256.20 205.47,254.66 207.16,254.35" fill="#ad3214" filter="url(#blur)"/>
<polygon points="149.17,269.28 150.82,269.74 149.43,271.45 148.03,273.01 145.72,271.51 145.80,269.84 147.61,268.80" fill="#a2270e" filter="url(#blur)"/>
<polygon points="149.35,270.11 149.55,270.72 148.42,271.93 147.36,271.34 146.79,270.59 147.52,269.65 148.40,269.60" fill="#b94b21" filter="url(#blur)"/>
<polygon points="180.96,265.78 182.97,267.07 182.08,268.89 179.78,269.08 178.62,268.06 178.56,266.39" fill="#af3616" filter="url(#blur)"/>
<polygon points="180.87,268.61 179.72,268.09 179.23,267.30 180.09,266.58 181.27,266.24 182.06,267.67" fill="#c5642d" filter="url(#blur)"/>
<polygon points="213.77,274.53 214.83,272.39 217.69,273.91 217.18,276.33 214.66,277.58 212.70,275.98" fill="#8e220d" filter="url(#blur)"/>
<polygon points="216.79,275.80 215.18,276.48 213.99,275.64 214.26,274.17 215.69,273.97 216.78,274.49" fill="#ad3214" filter="url(#blur)"/>
<polygon points="187.46,284.28 190.85,286.03 190.25,288.56 186.94,290.11 183.40,287.00 183.95,284.97" fill="#a92a10" filter="url(#blur)"/>
<polygon points="184.78,287.58 185.43,285.91 188.77,285.55 189.62,287.60 187.71,288.26" fill="#be5526" filter="url(#blur)"/>
<polygon points="152.67,283.79 154.60,284.81 155.65,285.38 154.17,287.17 153.30,287.74 152.00,286.78 151.43,284.47" fill="#9a250e" filter="url(#blur)"/>
<polygon points="154.82,286.31 153.53,286.94 152.18,286.29 152.60,285.53 152.96,284.50 154.38,285.45" fill="#b4411c" filter="url(#blur)"/>
<polygon points="156.16,294.40 155.10,292.77 156.92,290.94 159.20,290.52 159.82,293.53 159.48,295.63 156.59,296.17" fill="#a2270e" filter="url(#blur)"/>
<polygon points="158.93,291.93 159.26,293.56 158.34,294.73 156.88,294.43 157.05,291.81" fill="#b94b21" filter="url(#blur)"/>
<polygon points="153.65,302.42 152.11,303.46 150.77,302.37 150.79,300.24 151.35,299.43 153.42,298.56 154.72,300.84" fill="#9a250e" filter="url(#blur)"/>
<polygon points="150.98,300.32 152.14,299.55 153.26,300.16 154.20,301.19 153.02,301.97 152.16,301.96 151.02,301.35" fill="#b4411c" filter="url(#blur)"/>
<polygon points="206.54,294.11 207.46,295.69 205.64,297.27 202.59,296.39 204.01,294.85" fill="#a2270e" filter="url(#blur)"/>
<polygon points="204.36,296.07 203.77,295.32 204.67,294.56 205.87,294.62 207.21,295.19 206.81,296.70 205.44,296.58" fill="#b94b21" filter="url(#blur)"/>
<polygon points="204.30,299.49 205.84,300.79 207.14,302.81 205.27,304.73 204.11,303.88 202.57,302.61 203.41,300.69" fill="#b5421c" filter="url(#blur)"/>
<polygon points="203.50,301.44 204.37,301.05 205.39,301.06 205.83,301.71 205.36,302.84 204.23,303.68 203.03,302.63" fill="#cc7335" filter="url(#blur)"/>
<polygon points="197.50,312.32 197.16,311.41 196.45,309.91 198.15,309.10 199.21,309.54 199.21,311.13 199.01,312.03" fill="#8e220d" filter="url(#blur)"/>
<polygon points="197.37,310.10 198.03,309.86 198.92,310.74 198.68,311.34 197.94,311.69 197.21,311.16" fill="#ad3214" filter="url(#blur)"/>
<polygon points="173.77,316.16 173.12,317.55 170.88,316.74 170.41,315.41 171.96,314.38" fill="#8e220d" filter="url(#blur)"/>
<polygon points="172.83,316.42 172.09,317.03 171.14,316.42 171.53,315.36 172.89,315.68" fill="#ad3214" filter="url(#blur)"/>
<polygon points="207.37,322.31 208.81,321.23 210.18,322.67 209.43,323.79 208.06,323.35" fill="#a2270e" filter="url(#blur)"/>
<polygon points="208.70,321.67 209.41,322.15 209.67,323.31 208.69,323.63 207.92,322.82" fill="#b94b21" filter="url(#blur)"/>
<ellipse cx="200.0" cy="261.7" rx="0.73" ry="0.65" fill="#ac3113" opacity="0.85"/>
<ellipse cx="151.6" cy="298.9" rx="0.50" ry="0.57" fill="#b33e1a" opacity="0.85"/>
<ellipse cx="181.2" cy="230.0" rx="0.53" ry="0.63" fill="#b7471f" opacity="0.85"/>
<ellipse cx="169.7" cy="267.3" rx="0.66" ry="0.83" fill="#b03817" opacity="0.85"/>
<ellipse cx="185.1" cy="233.4" rx="0.53" ry="0.65" fill="#bb4e22" opacity="0.85"/>
<ellipse cx="143.3" cy="313.5" rx="0.65" ry="0.55" fill="#af3616" opacity="0.85"/>
<ellipse cx="138.6" cy="202.5" rx="0.88" ry="0.97" fill="#bc5023" opacity="0.85"/>
<ellipse cx="209.0" cy="194.6" rx="0.68" ry="1.07" fill="#b84920" opacity="0.85"/>
<ellipse cx="183.6" cy="314.4" rx="0.51" ry="0.44" fill="#a3270f" opacity="0.85"/>
<ellipse cx="188.1" cy="206.3" rx="0.63" ry="0.55" fill="#a8290f" opacity="0.85"/>
<ellipse cx="172.7" cy="286.8" rx="0.75" ry="0.66" fill="#a8280f" opacity="0.85"/>
<ellipse cx="177.8" cy="202.6" rx="0.47" ry="0.63" fill="#ae3515" opacity="0.85"/>
<ellipse cx="200.8" cy="186.1" rx="0.71" ry="1.04" fill="#be5426" opacity="0.85"/>
<ellipse cx="214.8" cy="250.7" rx="0.70" ry="0.88" fill="#a7280f" opacity="0.85"/>
<ellipse cx="208.7" cy="317.4" rx="0.80" ry="0.83" fill="#aa2d11" opacity="0.85"/>
<rect x="134.00" y="181.60" width="84.30" height="141.90" fill="none" stroke="#000" stroke-opacity="0.45" stroke-width="0.7"/>
<rect x="134.00" y="181.60" width="19.00" height="16.50" fill="#000" />
<text x="143.50" y="194.90" font-size="14.6" text-anchor="middle" fill="#fff" font-weight="bold" font-style="normal"  transform="translate(0 194.90) scale(1 1.08) translate(0 -194.90)">D</text>
<text x="159.60" y="177.90" font-size="9.4" fill="#1a1a1a" stroke="none" transform="translate(0 177.90) scale(1 1.07) translate(0 -177.90)">10-30k<tspan font-style="italic" stroke="none"> g</tspan></text>
<text x="138.80" y="313.10" font-size="6.25" fill="#f0f0f0" transform="translate(0 313.10) scale(1 1.08) translate(0 -313.10)">500 nm</text>
<rect x="142.20" y="315.70" width="16.60" height="1.30" fill="#f4f4f4" />
<rect x="221.30" y="181.50" width="8.00" height="142.20" fill="url(#cbg)" stroke="#333" stroke-width="0.8"/>
<line x1="229.30" y1="181.50" x2="231.30" y2="181.50" stroke="#444" stroke-width="0.7" />
<text x="244.10" y="187.70" font-size="5.8" fill="#3a3a3a" text-anchor="end" stroke="#3a3a3a" stroke-width="0.18" transform="translate(0 187.70) scale(1 1.08) translate(0 -187.70)">75.0</text>
<text x="246.40" y="187.70" font-size="5.8" fill="#3a3a3a" stroke="#3a3a3a" stroke-width="0.18" transform="translate(0 187.70) scale(1 1.08) translate(0 -187.70)">nm</text>
<line x1="229.30" y1="209.94" x2="231.30" y2="209.94" stroke="#444" stroke-width="0.7" />
<text x="244.10" y="216.34" font-size="5.8" fill="#3a3a3a" text-anchor="end" stroke="#3a3a3a" stroke-width="0.18" transform="translate(0 216.34) scale(1 1.08) translate(0 -216.34)">60.0</text>
<line x1="229.30" y1="228.90" x2="231.30" y2="228.90" stroke="#444" stroke-width="0.7" />
<text x="244.10" y="235.30" font-size="5.8" fill="#3a3a3a" text-anchor="end" stroke="#3a3a3a" stroke-width="0.18" transform="translate(0 235.30) scale(1 1.08) translate(0 -235.30)">50.0</text>
<line x1="229.30" y1="247.86" x2="231.30" y2="247.86" stroke="#444" stroke-width="0.7" />
<text x="244.10" y="254.26" font-size="5.8" fill="#3a3a3a" text-anchor="end" stroke="#3a3a3a" stroke-width="0.18" transform="translate(0 254.26) scale(1 1.08) translate(0 -254.26)">40.0</text>
<line x1="229.30" y1="266.82" x2="231.30" y2="266.82" stroke="#444" stroke-width="0.7" />
<text x="244.10" y="273.22" font-size="5.8" fill="#3a3a3a" text-anchor="end" stroke="#3a3a3a" stroke-width="0.18" transform="translate(0 273.22) scale(1 1.08) translate(0 -273.22)">30.0</text>
<line x1="229.30" y1="285.78" x2="231.30" y2="285.78" stroke="#444" stroke-width="0.7" />
<text x="244.10" y="292.18" font-size="5.8" fill="#3a3a3a" text-anchor="end" stroke="#3a3a3a" stroke-width="0.18" transform="translate(0 292.18) scale(1 1.08) translate(0 -292.18)">20.0</text>
<line x1="229.30" y1="304.74" x2="231.30" y2="304.74" stroke="#444" stroke-width="0.7" />
<line x1="229.30" y1="323.70" x2="231.30" y2="323.70" stroke="#444" stroke-width="0.7" />
<text x="244.10" y="322.30" font-size="5.8" fill="#3a3a3a" text-anchor="end" stroke="#3a3a3a" stroke-width="0.18" transform="translate(0 322.30) scale(1 1.08) translate(0 -322.30)">0.0</text>
<rect x="293.36" y="78.05" width="5.08" height="64.45" fill="#000" stroke="#c8c8c8" stroke-width="0.7"/>
<rect x="298.44" y="52.27" width="5.08" height="90.23" fill="#000" stroke="#c8c8c8" stroke-width="0.7"/>
<rect x="303.52" y="43.74" width="5.08" height="98.76" fill="#000" stroke="#c8c8c8" stroke-width="0.7"/>
<rect x="308.60" y="35.37" width="5.08" height="107.13" fill="#000" stroke="#c8c8c8" stroke-width="0.7"/>
<rect x="313.68" y="47.83" width="5.08" height="94.67" fill="#000" stroke="#c8c8c8" stroke-width="0.7"/>
<rect x="318.76" y="65.07" width="5.08" height="77.43" fill="#000" stroke="#c8c8c8" stroke-width="0.7"/>
<rect x="323.84" y="73.78" width="5.08" height="68.72" fill="#000" stroke="#c8c8c8" stroke-width="0.7"/>
<rect x="328.92" y="91.19" width="5.08" height="51.31" fill="#000" stroke="#c8c8c8" stroke-width="0.7"/>
<rect x="334.00" y="99.04" width="5.08" height="43.46" fill="#000" stroke="#c8c8c8" stroke-width="0.7"/>
<rect x="339.08" y="107.92" width="5.08" height="34.58" fill="#000" stroke="#c8c8c8" stroke-width="0.7"/>
<rect x="344.16" y="116.28" width="5.08" height="26.22" fill="#000" stroke="#c8c8c8" stroke-width="0.7"/>
<rect x="349.24" y="120.72" width="5.08" height="21.78" fill="#000" stroke="#c8c8c8" stroke-width="0.7"/>
<rect x="354.32" y="125.16" width="5.08" height="17.34" fill="#000" stroke="#c8c8c8" stroke-width="0.7"/>
<rect x="359.40" y="129.43" width="5.08" height="13.07" fill="#000" stroke="#c8c8c8" stroke-width="0.7"/>
<rect x="364.48" y="133.87" width="5.08" height="8.63" fill="#000" stroke="#c8c8c8" stroke-width="0.7"/>
<rect x="369.56" y="133.87" width="5.08" height="8.63" fill="#000" stroke="#c8c8c8" stroke-width="0.7"/>
<rect x="374.64" y="133.52" width="5.08" height="8.98" fill="#000" stroke="#c8c8c8" stroke-width="0.7"/>
<rect x="379.72" y="138.13" width="5.08" height="4.37" fill="#000" stroke="#c8c8c8" stroke-width="0.7"/>
<rect x="384.80" y="138.13" width="5.08" height="4.37" fill="#000" stroke="#c8c8c8" stroke-width="0.7"/>
<rect x="389.88" y="133.52" width="5.08" height="8.98" fill="#000" stroke="#c8c8c8" stroke-width="0.7"/>
<rect x="394.96" y="138.13" width="5.08" height="4.37" fill="#000" stroke="#c8c8c8" stroke-width="0.7"/>
<rect x="400.04" y="133.52" width="5.08" height="8.98" fill="#000" stroke="#c8c8c8" stroke-width="0.7"/>
<rect x="405.12" y="138.13" width="5.08" height="4.37" fill="#000" stroke="#c8c8c8" stroke-width="0.7"/>
<rect x="410.20" y="133.52" width="5.08" height="8.98" fill="#000" stroke="#c8c8c8" stroke-width="0.7"/>
<path d="M287.30,142.40 C287.75,139.33 289.13,130.40 290.00,124.00 C290.87,117.60 291.73,110.50 292.50,104.00 C293.27,97.50 293.90,90.83 294.60,85.00 C295.30,79.17 295.98,74.00 296.70,69.00 C297.42,64.00 298.10,58.83 298.90,55.00 C299.70,51.17 300.48,48.60 301.50,46.00 C302.52,43.40 303.83,40.13 305.00,39.40 C306.17,38.67 307.47,40.57 308.50,41.60 C309.53,42.63 310.32,44.07 311.20,45.60 C312.08,47.13 312.93,49.05 313.80,50.80 C314.67,52.55 315.45,53.90 316.40,56.10 C317.35,58.30 318.32,60.85 319.50,64.00 C320.68,67.15 321.65,70.47 323.50,75.00 C325.35,79.53 328.73,87.43 330.60,91.20 C332.47,94.97 333.23,95.27 334.70,97.60 C336.17,99.93 337.83,102.75 339.40,105.20 C340.97,107.65 342.35,110.05 344.10,112.30 C345.85,114.55 347.95,116.85 349.90,118.70 C351.85,120.55 353.65,122.02 355.80,123.40 C357.95,124.78 360.55,125.93 362.80,127.00 C365.05,128.07 366.63,128.80 369.30,129.80 C371.97,130.80 375.75,132.02 378.80,133.00 C381.85,133.98 384.67,134.97 387.60,135.70 C390.53,136.43 393.68,136.92 396.40,137.40 C399.12,137.88 402.65,138.40 403.90,138.60" fill="none" stroke="#ff0000" stroke-width="1.5"/>
<rect x="283.30" y="132.80" width="4.10" height="9.70" fill="#0000ff" stroke="#9a9aa6" stroke-width="0.6"/>
<rect x="287.60" y="40.00" width="4.40" height="102.50" fill="#0000ff" stroke="#9a9aa6" stroke-width="0.6"/>
<rect x="292.60" y="60.60" width="4.10" height="81.90" fill="#0000ff" stroke="#9a9aa6" stroke-width="0.6"/>
<rect x="296.70" y="119.30" width="4.40" height="23.20" fill="#0000ff" stroke="#9a9aa6" stroke-width="0.6"/>
<rect x="301.10" y="139.10" width="4.30" height="3.40" fill="#0000ff" stroke="#9a9aa6" stroke-width="0.6"/>
<path d="M284.50,142.40 C284.78,140.00 285.78,133.40 286.20,128.00 C286.62,122.60 286.73,117.67 287.00,110.00 C287.27,102.33 287.50,91.67 287.80,82.00 C288.10,72.33 288.37,59.93 288.80,52.00 C289.23,44.07 289.87,34.73 290.40,34.40 C290.93,34.07 291.53,44.07 292.00,50.00 C292.47,55.93 292.78,63.33 293.20,70.00 C293.62,76.67 294.03,84.00 294.50,90.00 C294.97,96.00 295.50,101.33 296.00,106.00 C296.50,110.67 296.83,113.83 297.50,118.00 C298.17,122.17 299.08,127.67 300.00,131.00 C300.92,134.33 301.67,136.23 303.00,138.00 C304.33,139.77 305.83,140.87 308.00,141.60 C310.17,142.33 314.67,142.27 316.00,142.40" fill="none" stroke="#8c8c8c" stroke-width="1.3"/>
<path d="M282.5,14.5 H404.5 V142.5" fill="none" stroke="#000" stroke-width="0.9"/>
<line x1="282.30" y1="142.50" x2="404.50" y2="142.50" stroke="#000" stroke-width="1.0" />
<line x1="283.00" y1="14.50" x2="283.00" y2="142.50" stroke="#c4c4c4" stroke-width="1.9" />
<line x1="280.30" y1="142.40" x2="282.50" y2="142.40" stroke="#000" stroke-width="0.7" />
<text x="279.70" y="145.40" font-size="9" text-anchor="end" fill="#111" font-weight="normal" font-style="normal" transform="translate(0 145.40) scale(1 1.07) translate(0 -145.40)"  stroke="#111" stroke-width="0.25">0</text>
<line x1="280.30" y1="125.33" x2="282.50" y2="125.33" stroke="#000" stroke-width="0.7" />
<text x="279.70" y="128.33" font-size="9" text-anchor="end" fill="#111" font-weight="normal" font-style="normal" transform="translate(0 128.33) scale(1 1.07) translate(0 -128.33)"  stroke="#111" stroke-width="0.25">10</text>
<line x1="280.30" y1="108.26" x2="282.50" y2="108.26" stroke="#000" stroke-width="0.7" />
<text x="279.70" y="111.26" font-size="9" text-anchor="end" fill="#111" font-weight="normal" font-style="normal" transform="translate(0 111.26) scale(1 1.07) translate(0 -111.26)"  stroke="#111" stroke-width="0.25">20</text>
<line x1="280.30" y1="91.19" x2="282.50" y2="91.19" stroke="#000" stroke-width="0.7" />
<text x="279.70" y="94.19" font-size="9" text-anchor="end" fill="#111" font-weight="normal" font-style="normal" transform="translate(0 94.19) scale(1 1.07) translate(0 -94.19)"  stroke="#111" stroke-width="0.25">30</text>
<line x1="280.30" y1="74.12" x2="282.50" y2="74.12" stroke="#000" stroke-width="0.7" />
<text x="279.70" y="77.12" font-size="9" text-anchor="end" fill="#111" font-weight="normal" font-style="normal" transform="translate(0 77.12) scale(1 1.07) translate(0 -77.12)"  stroke="#111" stroke-width="0.25">40</text>
<line x1="280.30" y1="57.05" x2="282.50" y2="57.05" stroke="#000" stroke-width="0.7" />
<text x="279.70" y="60.05" font-size="9" text-anchor="end" fill="#111" font-weight="normal" font-style="normal" transform="translate(0 60.05) scale(1 1.07) translate(0 -60.05)"  stroke="#111" stroke-width="0.25">50</text>
<line x1="280.30" y1="39.98" x2="282.50" y2="39.98" stroke="#000" stroke-width="0.7" />
<text x="279.70" y="42.98" font-size="9" text-anchor="end" fill="#111" font-weight="normal" font-style="normal" transform="translate(0 42.98) scale(1 1.07) translate(0 -42.98)"  stroke="#111" stroke-width="0.25">60</text>
<line x1="280.30" y1="22.91" x2="282.50" y2="22.91" stroke="#000" stroke-width="0.7" />
<text x="279.70" y="25.91" font-size="9" text-anchor="end" fill="#111" font-weight="normal" font-style="normal" transform="translate(0 25.91) scale(1 1.07) translate(0 -25.91)"  stroke="#111" stroke-width="0.25">70</text>
<line x1="281.30" y1="133.87" x2="282.50" y2="133.87" stroke="#000" stroke-width="0.6" />
<line x1="281.30" y1="116.80" x2="282.50" y2="116.80" stroke="#000" stroke-width="0.6" />
<line x1="281.30" y1="99.72" x2="282.50" y2="99.72" stroke="#000" stroke-width="0.6" />
<line x1="281.30" y1="82.66" x2="282.50" y2="82.66" stroke="#000" stroke-width="0.6" />
<line x1="281.30" y1="65.59" x2="282.50" y2="65.59" stroke="#000" stroke-width="0.6" />
<line x1="281.30" y1="48.52" x2="282.50" y2="48.52" stroke="#000" stroke-width="0.6" />
<line x1="281.30" y1="31.45" x2="282.50" y2="31.45" stroke="#000" stroke-width="0.6" />
<line x1="282.70" y1="142.50" x2="282.70" y2="144.70" stroke="#000" stroke-width="0.7" />
<text x="282.70" y="153.20" font-size="9" text-anchor="middle" fill="#111" font-weight="normal" font-style="normal" transform="translate(0 153.20) scale(1 1.07) translate(0 -153.20)"  stroke="#111" stroke-width="0.25">0</text>
<line x1="310.35" y1="142.50" x2="310.35" y2="144.70" stroke="#000" stroke-width="0.7" />
<text x="310.35" y="153.20" font-size="9" text-anchor="middle" fill="#111" font-weight="normal" font-style="normal" transform="translate(0 153.20) scale(1 1.07) translate(0 -153.20)"  stroke="#111" stroke-width="0.25">250</text>
<line x1="338.00" y1="142.50" x2="338.00" y2="144.70" stroke="#000" stroke-width="0.7" />
<text x="338.00" y="153.20" font-size="9" text-anchor="middle" fill="#111" font-weight="normal" font-style="normal" transform="translate(0 153.20) scale(1 1.07) translate(0 -153.20)"  stroke="#111" stroke-width="0.25">500</text>
<line x1="365.65" y1="142.50" x2="365.65" y2="144.70" stroke="#000" stroke-width="0.7" />
<text x="365.65" y="153.20" font-size="9" text-anchor="middle" fill="#111" font-weight="normal" font-style="normal" transform="translate(0 153.20) scale(1 1.07) translate(0 -153.20)"  stroke="#111" stroke-width="0.25">750</text>
<line x1="393.30" y1="142.50" x2="393.30" y2="144.70" stroke="#000" stroke-width="0.7" />
<text x="393.30" y="153.20" font-size="9" text-anchor="middle" fill="#111" font-weight="normal" font-style="normal" transform="translate(0 153.20) scale(1 1.07) translate(0 -153.20)"  stroke="#111" stroke-width="0.25">1000</text>
<line x1="296.52" y1="142.50" x2="296.52" y2="143.80" stroke="#000" stroke-width="0.6" />
<line x1="324.18" y1="142.50" x2="324.18" y2="143.80" stroke="#000" stroke-width="0.6" />
<line x1="351.82" y1="142.50" x2="351.82" y2="143.80" stroke="#000" stroke-width="0.6" />
<line x1="379.48" y1="142.50" x2="379.48" y2="143.80" stroke="#000" stroke-width="0.6" />
<line x1="407.12" y1="142.50" x2="407.12" y2="143.80" stroke="#000" stroke-width="0.6" />
<text x="344.00" y="168.40" font-size="9.5" text-anchor="middle" fill="#111" font-weight="normal" font-style="normal"  stroke="#111" stroke-width="0.25" transform="translate(0 168.40) scale(1 1.08) translate(0 -168.40)">Length, L (nm)</text>
<text x="0" y="0" font-size="9.5" text-anchor="middle" fill="#111" transform="translate(258.5 78.5) rotate(-90)" stroke="#111" stroke-width="0.25">Counts</text>
<rect x="282.50" y="14.50" width="18.50" height="16.20" fill="#000" />
<text x="291.75" y="27.60" font-size="14.6" text-anchor="middle" fill="#fff" font-weight="bold" font-style="normal"  transform="translate(0 27.60) scale(1 1.08) translate(0 -27.60)">E</text>
<rect x="337.60" y="16.70" width="14.20" height="6.90" fill="#000" />
<rect x="337.60" y="25.60" width="14.20" height="6.70" fill="#0000ff" stroke="#000" stroke-width="0.4"/>
<text x="353.4" y="22.70" font-size="6.0" fill="#111" stroke="#111" stroke-width="0.18" transform="translate(0 22.70) scale(1 1.08) translate(0 -22.70)"><tspan font-weight="bold">Large</tspan><tspan fill="#8a8a8a" stroke="#8a8a8a" stroke-width="0.25"> (0.1-0.4k g)</tspan></text>
<text x="353.4" y="31.70" font-size="6.0" fill="#111" stroke="#111" stroke-width="0.18" transform="translate(0 31.70) scale(1 1.08) translate(0 -31.70)"><tspan font-weight="bold">Small</tspan><tspan fill="#8a8a8a" stroke="#8a8a8a" stroke-width="0.25"> (10-30k g)</tspan></text>
<g><line x1="361.5" y1="79" x2="392" y2="79" stroke="#000" stroke-width="1.5"/><path d="M359,79 L363.5,76.2 L363.5,81.8 Z" fill="#000"/><path d="M394.6,79 L390,76.2 L390,81.8 Z" fill="#000"/><defs><linearGradient id="flk" x1="0" y1="0" x2="1" y2="0.4"><stop offset="0" stop-color="#f2b7a2"/><stop offset="0.55" stop-color="#b89a96"/><stop offset="1" stop-color="#5a4a4e"/></linearGradient></defs><path d="M355.3,90.2 L369.3,84 L397.5,87.3 L383.4,94 Z" fill="url(#flk)"/><path d="M355.3,90.2 L383.4,94 L383.4,95 L355.3,91.2 Z" fill="#e0704a"/><path d="M383.4,94 L397.5,87.3 L397.5,88.3 L383.4,95 Z" fill="#3a3034"/></g>
<rect x="289.50" y="229.40" width="6.00" height="79.10" fill="#000" stroke="#c8c8c8" stroke-width="0.7"/>
<rect x="295.50" y="206.76" width="6.00" height="101.74" fill="#000" stroke="#c8c8c8" stroke-width="0.7"/>
<rect x="301.50" y="211.38" width="6.00" height="97.12" fill="#000" stroke="#c8c8c8" stroke-width="0.7"/>
<rect x="307.50" y="242.10" width="6.00" height="66.40" fill="#000" stroke="#c8c8c8" stroke-width="0.7"/>
<rect x="313.50" y="265.20" width="6.00" height="43.30" fill="#000" stroke="#c8c8c8" stroke-width="0.7"/>
<rect x="319.50" y="270.28" width="6.00" height="38.22" fill="#000" stroke="#c8c8c8" stroke-width="0.7"/>
<rect x="325.50" y="282.99" width="6.00" height="25.51" fill="#000" stroke="#c8c8c8" stroke-width="0.7"/>
<rect x="331.50" y="290.15" width="6.00" height="18.35" fill="#000" stroke="#c8c8c8" stroke-width="0.7"/>
<rect x="337.50" y="295.69" width="6.00" height="12.81" fill="#000" stroke="#c8c8c8" stroke-width="0.7"/>
<rect x="343.50" y="295.46" width="6.00" height="13.04" fill="#000" stroke="#c8c8c8" stroke-width="0.7"/>
<rect x="349.50" y="301.01" width="6.00" height="7.49" fill="#000" stroke="#c8c8c8" stroke-width="0.7"/>
<rect x="355.50" y="303.09" width="6.00" height="5.41" fill="#000" stroke="#c8c8c8" stroke-width="0.7"/>
<rect x="361.50" y="304.01" width="6.00" height="4.49" fill="#000" stroke="#c8c8c8" stroke-width="0.7"/>
<rect x="367.50" y="301.01" width="6.00" height="7.49" fill="#000" stroke="#c8c8c8" stroke-width="0.7"/>
<rect x="373.50" y="305.63" width="6.00" height="2.87" fill="#000" stroke="#c8c8c8" stroke-width="0.7"/>
<rect x="379.50" y="306.09" width="6.00" height="2.41" fill="#000" stroke="#c8c8c8" stroke-width="0.7"/>
<rect x="385.50" y="305.63" width="6.00" height="2.87" fill="#000" stroke="#c8c8c8" stroke-width="0.7"/>
<rect x="391.50" y="306.09" width="6.00" height="2.41" fill="#000" stroke="#c8c8c8" stroke-width="0.7"/>
<rect x="397.50" y="305.63" width="6.00" height="2.87" fill="#000" stroke="#c8c8c8" stroke-width="0.7"/>
<path d="M287.10,308.20 C287.45,300.50 288.57,274.03 289.20,262.00 C289.83,249.97 290.35,243.00 290.90,236.00 C291.45,229.00 291.90,224.42 292.50,220.00 C293.10,215.58 293.77,211.73 294.50,209.50 C295.23,207.27 296.15,206.85 296.90,206.60 C297.65,206.35 298.35,207.33 299.00,208.00 C299.65,208.67 299.92,208.85 300.80,210.60 C301.68,212.35 303.13,215.23 304.30,218.50 C305.47,221.77 306.68,226.53 307.80,230.20 C308.92,233.87 309.95,236.87 311.00,240.50 C312.05,244.13 312.70,247.83 314.10,252.00 C315.50,256.17 317.63,261.63 319.40,265.50 C321.17,269.37 322.85,272.18 324.70,275.20 C326.55,278.22 328.55,281.17 330.50,283.60 C332.45,286.03 334.35,288.00 336.40,289.80 C338.45,291.60 340.68,292.87 342.80,294.40 C344.92,295.93 347.27,297.88 349.10,299.00 C350.93,300.12 352.23,300.50 353.80,301.10 C355.37,301.70 356.93,302.18 358.50,302.60 C360.07,303.02 361.28,303.27 363.20,303.60 C365.12,303.93 367.50,304.27 370.00,304.60 C372.50,304.93 375.47,305.28 378.20,305.60 C380.93,305.92 383.67,306.27 386.40,306.50 C389.13,306.73 391.72,306.87 394.60,307.00 C397.48,307.13 402.18,307.25 403.70,307.30" fill="none" stroke="#ff0000" stroke-width="1.5"/>
<rect x="283.30" y="236.70" width="4.10" height="71.80" fill="#0000ff" stroke="#9a9aa6" stroke-width="0.6"/>
<rect x="287.60" y="205.30" width="4.30" height="103.20" fill="#0000ff" stroke="#9a9aa6" stroke-width="0.6"/>
<rect x="292.80" y="230.80" width="4.50" height="77.70" fill="#0000ff" stroke="#9a9aa6" stroke-width="0.6"/>
<rect x="297.30" y="274.70" width="4.40" height="33.80" fill="#0000ff" stroke="#9a9aa6" stroke-width="0.6"/>
<rect x="301.70" y="296.10" width="4.60" height="12.40" fill="#0000ff" stroke="#9a9aa6" stroke-width="0.6"/>
<rect x="306.30" y="306.60" width="4.10" height="1.90" fill="#0000ff" stroke="#9a9aa6" stroke-width="0.6"/>
<path d="M283.40,295.00 C283.53,289.17 283.93,270.50 284.20,260.00 C284.47,249.50 284.68,239.90 285.00,232.00 C285.32,224.10 285.62,218.02 286.10,212.60 C286.58,207.18 287.22,199.50 287.90,199.50 C288.58,199.50 289.52,206.90 290.20,212.60 C290.88,218.30 291.32,226.47 292.00,233.70 C292.68,240.93 293.42,249.62 294.30,256.00 C295.18,262.38 296.22,266.33 297.30,272.00 C298.38,277.67 299.68,285.50 300.80,290.00 C301.92,294.50 302.83,296.67 304.00,299.00 C305.17,301.33 305.80,302.57 307.80,304.00 C309.80,305.43 313.13,306.90 316.00,307.60 C318.87,308.30 323.50,308.10 325.00,308.20" fill="none" stroke="#8c8c8c" stroke-width="1.3"/>
<path d="M282.5,180.5 H404.5 V308.5" fill="none" stroke="#000" stroke-width="0.9"/>
<line x1="282.30" y1="308.50" x2="404.50" y2="308.50" stroke="#000" stroke-width="1.0" />
<line x1="283.00" y1="180.50" x2="283.00" y2="308.50" stroke="#c4c4c4" stroke-width="1.9" />
<line x1="280.30" y1="308.40" x2="282.50" y2="308.40" stroke="#000" stroke-width="0.7" />
<text x="279.70" y="311.40" font-size="9" text-anchor="end" fill="#111" font-weight="normal" font-style="normal" transform="translate(0 311.40) scale(1 1.07) translate(0 -311.40)"  stroke="#111" stroke-width="0.25">0</text>
<line x1="280.30" y1="285.30" x2="282.50" y2="285.30" stroke="#000" stroke-width="0.7" />
<text x="279.70" y="288.30" font-size="9" text-anchor="end" fill="#111" font-weight="normal" font-style="normal" transform="translate(0 288.30) scale(1 1.07) translate(0 -288.30)"  stroke="#111" stroke-width="0.25">10</text>
<line x1="280.30" y1="262.20" x2="282.50" y2="262.20" stroke="#000" stroke-width="0.7" />
<text x="279.70" y="265.20" font-size="9" text-anchor="end" fill="#111" font-weight="normal" font-style="normal" transform="translate(0 265.20) scale(1 1.07) translate(0 -265.20)"  stroke="#111" stroke-width="0.25">20</text>
<line x1="280.30" y1="239.10" x2="282.50" y2="239.10" stroke="#000" stroke-width="0.7" />
<text x="279.70" y="242.10" font-size="9" text-anchor="end" fill="#111" font-weight="normal" font-style="normal" transform="translate(0 242.10) scale(1 1.07) translate(0 -242.10)"  stroke="#111" stroke-width="0.25">30</text>
<line x1="280.30" y1="216.00" x2="282.50" y2="216.00" stroke="#000" stroke-width="0.7" />
<text x="279.70" y="219.00" font-size="9" text-anchor="end" fill="#111" font-weight="normal" font-style="normal" transform="translate(0 219.00) scale(1 1.07) translate(0 -219.00)"  stroke="#111" stroke-width="0.25">40</text>
<line x1="280.30" y1="192.90" x2="282.50" y2="192.90" stroke="#000" stroke-width="0.7" />
<text x="279.70" y="195.90" font-size="9" text-anchor="end" fill="#111" font-weight="normal" font-style="normal" transform="translate(0 195.90) scale(1 1.07) translate(0 -195.90)"  stroke="#111" stroke-width="0.25">50</text>
<line x1="281.30" y1="296.85" x2="282.50" y2="296.85" stroke="#000" stroke-width="0.6" />
<line x1="281.30" y1="273.75" x2="282.50" y2="273.75" stroke="#000" stroke-width="0.6" />
<line x1="281.30" y1="250.65" x2="282.50" y2="250.65" stroke="#000" stroke-width="0.6" />
<line x1="281.30" y1="227.55" x2="282.50" y2="227.55" stroke="#000" stroke-width="0.6" />
<line x1="281.30" y1="204.45" x2="282.50" y2="204.45" stroke="#000" stroke-width="0.6" />
<line x1="283.00" y1="308.50" x2="283.00" y2="310.70" stroke="#000" stroke-width="0.7" />
<text x="283.00" y="319.20" font-size="9" text-anchor="middle" fill="#111" font-weight="normal" font-style="normal" transform="translate(0 319.20) scale(1 1.07) translate(0 -319.20)"  stroke="#111" stroke-width="0.25">0</text>
<line x1="298.30" y1="308.50" x2="298.30" y2="310.70" stroke="#000" stroke-width="0.7" />
<text x="298.30" y="319.20" font-size="9" text-anchor="middle" fill="#111" font-weight="normal" font-style="normal" transform="translate(0 319.20) scale(1 1.07) translate(0 -319.20)"  stroke="#111" stroke-width="0.25">10</text>
<line x1="313.60" y1="308.50" x2="313.60" y2="310.70" stroke="#000" stroke-width="0.7" />
<text x="313.60" y="319.20" font-size="9" text-anchor="middle" fill="#111" font-weight="normal" font-style="normal" transform="translate(0 319.20) scale(1 1.07) translate(0 -319.20)"  stroke="#111" stroke-width="0.25">20</text>
<line x1="328.90" y1="308.50" x2="328.90" y2="310.70" stroke="#000" stroke-width="0.7" />
<text x="328.90" y="319.20" font-size="9" text-anchor="middle" fill="#111" font-weight="normal" font-style="normal" transform="translate(0 319.20) scale(1 1.07) translate(0 -319.20)"  stroke="#111" stroke-width="0.25">30</text>
<line x1="344.20" y1="308.50" x2="344.20" y2="310.70" stroke="#000" stroke-width="0.7" />
<text x="344.20" y="319.20" font-size="9" text-anchor="middle" fill="#111" font-weight="normal" font-style="normal" transform="translate(0 319.20) scale(1 1.07) translate(0 -319.20)"  stroke="#111" stroke-width="0.25">40</text>
<line x1="359.50" y1="308.50" x2="359.50" y2="310.70" stroke="#000" stroke-width="0.7" />
<text x="359.50" y="319.20" font-size="9" text-anchor="middle" fill="#111" font-weight="normal" font-style="normal" transform="translate(0 319.20) scale(1 1.07) translate(0 -319.20)"  stroke="#111" stroke-width="0.25">50</text>
<line x1="374.80" y1="308.50" x2="374.80" y2="310.70" stroke="#000" stroke-width="0.7" />
<text x="374.80" y="319.20" font-size="9" text-anchor="middle" fill="#111" font-weight="normal" font-style="normal" transform="translate(0 319.20) scale(1 1.07) translate(0 -319.20)"  stroke="#111" stroke-width="0.25">60</text>
<line x1="390.10" y1="308.50" x2="390.10" y2="310.70" stroke="#000" stroke-width="0.7" />
<text x="390.10" y="319.20" font-size="9" text-anchor="middle" fill="#111" font-weight="normal" font-style="normal" transform="translate(0 319.20) scale(1 1.07) translate(0 -319.20)"  stroke="#111" stroke-width="0.25">70</text>
<line x1="405.40" y1="308.50" x2="405.40" y2="310.70" stroke="#000" stroke-width="0.7" />
<text x="405.40" y="319.20" font-size="9" text-anchor="middle" fill="#111" font-weight="normal" font-style="normal" transform="translate(0 319.20) scale(1 1.07) translate(0 -319.20)"  stroke="#111" stroke-width="0.25">80</text>
<line x1="290.65" y1="308.50" x2="290.65" y2="309.80" stroke="#000" stroke-width="0.6" />
<line x1="305.95" y1="308.50" x2="305.95" y2="309.80" stroke="#000" stroke-width="0.6" />
<line x1="321.25" y1="308.50" x2="321.25" y2="309.80" stroke="#000" stroke-width="0.6" />
<line x1="336.55" y1="308.50" x2="336.55" y2="309.80" stroke="#000" stroke-width="0.6" />
<line x1="351.85" y1="308.50" x2="351.85" y2="309.80" stroke="#000" stroke-width="0.6" />
<line x1="367.15" y1="308.50" x2="367.15" y2="309.80" stroke="#000" stroke-width="0.6" />
<line x1="382.45" y1="308.50" x2="382.45" y2="309.80" stroke="#000" stroke-width="0.6" />
<line x1="397.75" y1="308.50" x2="397.75" y2="309.80" stroke="#000" stroke-width="0.6" />
<text x="344.00" y="334.70" font-size="9.5" text-anchor="middle" fill="#111" font-weight="normal" font-style="normal"  stroke="#111" stroke-width="0.25" transform="translate(0 334.70) scale(1 1.08) translate(0 -334.70)">Number of Layers, N</text>
<text x="0" y="0" font-size="9.5" text-anchor="middle" fill="#111" transform="translate(258.5 244.5) rotate(-90)" stroke="#111" stroke-width="0.25">Counts</text>
<rect x="282.50" y="180.50" width="18.50" height="16.20" fill="#000" />
<text x="291.75" y="193.60" font-size="14.6" text-anchor="middle" fill="#fff" font-weight="bold" font-style="normal"  transform="translate(0 193.60) scale(1 1.08) translate(0 -193.60)">F</text>
<rect x="337.60" y="182.50" width="14.20" height="6.90" fill="#000" />
<rect x="337.60" y="191.40" width="14.20" height="6.70" fill="#0000ff" stroke="#000" stroke-width="0.4"/>
<text x="353.4" y="188.50" font-size="6.0" fill="#111" stroke="#111" stroke-width="0.18" transform="translate(0 188.50) scale(1 1.08) translate(0 -188.50)"><tspan font-weight="bold">Large</tspan><tspan fill="#8a8a8a" stroke="#8a8a8a" stroke-width="0.25"> (0.1-0.4k g)</tspan></text>
<text x="353.4" y="197.50" font-size="6.0" fill="#111" stroke="#111" stroke-width="0.18" transform="translate(0 197.50) scale(1 1.08) translate(0 -197.50)"><tspan font-weight="bold">Small</tspan><tspan fill="#8a8a8a" stroke="#8a8a8a" stroke-width="0.25"> (10-30k g)</tspan></text>
<g><defs><linearGradient id="flk2" x1="0" y1="0" x2="1" y2="0.6"><stop offset="0" stop-color="#f0b09e"/><stop offset="0.5" stop-color="#c09a94"/><stop offset="1" stop-color="#6a5c60"/></linearGradient></defs><line x1="347.9" y1="250" x2="347.9" y2="263" stroke="#000" stroke-width="1.6"/><path d="M347.9,247 L345.2,251.5 L350.6,251.5 Z" fill="#000"/><path d="M347.9,266 L345.2,261.5 L350.6,261.5 Z" fill="#000"/><path d="M355.1,264.3 L368.3,257.3 L397.7,261.4 L384.5,267.2 Z" fill="url(#flk2)"/><path d="M355.1,264.3 L384.5,267.2 L384.5,268.1 L355.1,265.2 Z" fill="#d4643f"/><path d="M384.5,267.2 L397.7,261.4 L397.7,262.3 L384.5,268.1 Z" fill="#2e2628"/><path d="M355.1,261.0 L368.3,254.0 L397.7,258.1 L384.5,263.9 Z" fill="url(#flk2)"/><path d="M355.1,261.0 L384.5,263.9 L384.5,264.8 L355.1,261.9 Z" fill="#d4643f"/><path d="M384.5,263.9 L397.7,258.1 L397.7,259.0 L384.5,264.8 Z" fill="#2e2628"/><path d="M355.1,257.7 L368.3,250.7 L397.7,254.8 L384.5,260.6 Z" fill="url(#flk2)"/><path d="M355.1,257.7 L384.5,260.6 L384.5,261.5 L355.1,258.6 Z" fill="#d4643f"/><path d="M384.5,260.6 L397.7,254.8 L397.7,255.7 L384.5,261.5 Z" fill="#2e2628"/><path d="M355.1,254.4 L368.3,247.4 L397.7,251.5 L384.5,257.3 Z" fill="url(#flk2)"/><path d="M355.1,254.4 L384.5,257.3 L384.5,258.2 L355.1,255.3 Z" fill="#d4643f"/><path d="M384.5,257.3 L397.7,251.5 L397.7,252.4 L384.5,258.2 Z" fill="#2e2628"/><path d="M355.1,251.1 L368.3,244.1 L397.7,248.2 L384.5,254.0 Z" fill="url(#flk2)"/><path d="M355.1,251.1 L384.5,254.0 L384.5,254.9 L355.1,252.0 Z" fill="#d4643f"/><path d="M384.5,254.0 L397.7,248.2 L397.7,249.1 L384.5,254.9 Z" fill="#2e2628"/></g>
<line x1="446.80" y1="116.50" x2="539.80" y2="14.90" stroke="#c8c8c8" stroke-width="1.3" stroke-dasharray="4,3"/>
<line x1="521.60" y1="27.80" x2="521.60" y2="33.80" stroke="#d0d0d0" stroke-width="0.6" />
<line x1="520.40" y1="27.80" x2="522.80" y2="27.80" stroke="#d0d0d0" stroke-width="0.6" />
<line x1="520.40" y1="33.80" x2="522.80" y2="33.80" stroke="#d0d0d0" stroke-width="0.6" />
<circle cx="521.60" cy="30.80" r="1.89" fill="#c0c0c0"/>
<line x1="515.40" y1="38.40" x2="515.40" y2="44.40" stroke="#d0d0d0" stroke-width="0.6" />
<line x1="514.20" y1="38.40" x2="516.60" y2="38.40" stroke="#d0d0d0" stroke-width="0.6" />
<line x1="514.20" y1="44.40" x2="516.60" y2="44.40" stroke="#d0d0d0" stroke-width="0.6" />
<polygon points="515.40,39.24 515.98,40.60 517.45,40.73 516.34,41.71 516.67,43.15 515.40,42.39 514.13,43.15 514.46,41.71 513.35,40.73 514.82,40.60" fill="#c8c8c8"/>
<line x1="511.00" y1="38.40" x2="511.00" y2="44.40" stroke="#d0d0d0" stroke-width="0.6" />
<line x1="509.80" y1="38.40" x2="512.20" y2="38.40" stroke="#d0d0d0" stroke-width="0.6" />
<line x1="509.80" y1="44.40" x2="512.20" y2="44.40" stroke="#d0d0d0" stroke-width="0.6" />
<circle cx="511.00" cy="41.40" r="1.89" fill="#c0c0c0"/>
<line x1="506.60" y1="43.60" x2="506.60" y2="49.60" stroke="#d0d0d0" stroke-width="0.6" />
<line x1="505.40" y1="43.60" x2="507.80" y2="43.60" stroke="#d0d0d0" stroke-width="0.6" />
<line x1="505.40" y1="49.60" x2="507.80" y2="49.60" stroke="#d0d0d0" stroke-width="0.6" />
<polygon points="506.60,44.44 507.18,45.80 508.65,45.93 507.54,46.91 507.87,48.35 506.60,47.59 505.33,48.35 505.66,46.91 504.55,45.93 506.02,45.80" fill="#c8c8c8"/>
<line x1="500.50" y1="48.90" x2="500.50" y2="54.90" stroke="#d0d0d0" stroke-width="0.6" />
<line x1="499.30" y1="48.90" x2="501.70" y2="48.90" stroke="#d0d0d0" stroke-width="0.6" />
<line x1="499.30" y1="54.90" x2="501.70" y2="54.90" stroke="#d0d0d0" stroke-width="0.6" />
<circle cx="500.50" cy="51.90" r="1.89" fill="#c0c0c0"/>
<line x1="496.10" y1="49.80" x2="496.10" y2="55.80" stroke="#d0d0d0" stroke-width="0.6" />
<line x1="494.90" y1="49.80" x2="497.30" y2="49.80" stroke="#d0d0d0" stroke-width="0.6" />
<line x1="494.90" y1="55.80" x2="497.30" y2="55.80" stroke="#d0d0d0" stroke-width="0.6" />
<polygon points="496.10,50.64 496.68,52.00 498.15,52.13 497.04,53.11 497.37,54.55 496.10,53.79 494.83,54.55 495.16,53.11 494.05,52.13 495.52,52.00" fill="#c8c8c8"/>
<line x1="490.80" y1="54.20" x2="490.80" y2="60.20" stroke="#d0d0d0" stroke-width="0.6" />
<line x1="489.60" y1="54.20" x2="492.00" y2="54.20" stroke="#d0d0d0" stroke-width="0.6" />
<line x1="489.60" y1="60.20" x2="492.00" y2="60.20" stroke="#d0d0d0" stroke-width="0.6" />
<circle cx="490.80" cy="57.20" r="1.89" fill="#c0c0c0"/>
<line x1="498.70" y1="58.60" x2="498.70" y2="64.60" stroke="#d0d0d0" stroke-width="0.6" />
<line x1="497.50" y1="58.60" x2="499.90" y2="58.60" stroke="#d0d0d0" stroke-width="0.6" />
<line x1="497.50" y1="64.60" x2="499.90" y2="64.60" stroke="#d0d0d0" stroke-width="0.6" />
<polygon points="498.70,59.44 499.28,60.80 500.75,60.93 499.64,61.91 499.97,63.35 498.70,62.59 497.43,63.35 497.76,61.91 496.65,60.93 498.12,60.80" fill="#c8c8c8"/>
<line x1="492.60" y1="61.20" x2="492.60" y2="67.20" stroke="#d0d0d0" stroke-width="0.6" />
<line x1="491.40" y1="61.20" x2="493.80" y2="61.20" stroke="#d0d0d0" stroke-width="0.6" />
<line x1="491.40" y1="67.20" x2="493.80" y2="67.20" stroke="#d0d0d0" stroke-width="0.6" />
<circle cx="492.60" cy="64.20" r="1.89" fill="#c0c0c0"/>
<line x1="487.30" y1="63.00" x2="487.30" y2="69.00" stroke="#d0d0d0" stroke-width="0.6" />
<line x1="486.10" y1="63.00" x2="488.50" y2="63.00" stroke="#d0d0d0" stroke-width="0.6" />
<line x1="486.10" y1="69.00" x2="488.50" y2="69.00" stroke="#d0d0d0" stroke-width="0.6" />
<polygon points="487.30,63.84 487.88,65.20 489.35,65.33 488.24,66.31 488.57,67.75 487.30,66.99 486.03,67.75 486.36,66.31 485.25,65.33 486.72,65.20" fill="#c8c8c8"/>
<line x1="482.00" y1="62.00" x2="482.00" y2="68.00" stroke="#d0d0d0" stroke-width="0.6" />
<line x1="480.80" y1="62.00" x2="483.20" y2="62.00" stroke="#d0d0d0" stroke-width="0.6" />
<line x1="480.80" y1="68.00" x2="483.20" y2="68.00" stroke="#d0d0d0" stroke-width="0.6" />
<circle cx="482.00" cy="65.00" r="1.89" fill="#c0c0c0"/>
<line x1="533.60" y1="16.90" x2="533.60" y2="22.90" stroke="#d0d0d0" stroke-width="0.6" />
<line x1="532.40" y1="16.90" x2="534.80" y2="16.90" stroke="#d0d0d0" stroke-width="0.6" />
<line x1="532.40" y1="22.90" x2="534.80" y2="22.90" stroke="#d0d0d0" stroke-width="0.6" />
<polygon points="533.60,17.74 534.18,19.10 535.65,19.23 534.54,20.21 534.87,21.65 533.60,20.89 532.33,21.65 532.66,20.21 531.55,19.23 533.02,19.10" fill="#c8c8c8"/>
<line x1="530.60" y1="17.60" x2="530.60" y2="23.60" stroke="#d0d0d0" stroke-width="0.6" />
<line x1="529.40" y1="17.60" x2="531.80" y2="17.60" stroke="#d0d0d0" stroke-width="0.6" />
<line x1="529.40" y1="23.60" x2="531.80" y2="23.60" stroke="#d0d0d0" stroke-width="0.6" />
<circle cx="530.60" cy="20.60" r="1.89" fill="#c0c0c0"/>
<line x1="528.40" y1="22.00" x2="528.40" y2="28.00" stroke="#d0d0d0" stroke-width="0.6" />
<line x1="527.20" y1="22.00" x2="529.60" y2="22.00" stroke="#d0d0d0" stroke-width="0.6" />
<line x1="527.20" y1="28.00" x2="529.60" y2="28.00" stroke="#d0d0d0" stroke-width="0.6" />
<polygon points="528.40,22.84 528.98,24.20 530.45,24.33 529.34,25.31 529.67,26.75 528.40,25.99 527.13,26.75 527.46,25.31 526.35,24.33 527.82,24.20" fill="#c8c8c8"/>
<line x1="527.00" y1="24.90" x2="527.00" y2="30.90" stroke="#d0d0d0" stroke-width="0.6" />
<line x1="525.80" y1="24.90" x2="528.20" y2="24.90" stroke="#d0d0d0" stroke-width="0.6" />
<line x1="525.80" y1="30.90" x2="528.20" y2="30.90" stroke="#d0d0d0" stroke-width="0.6" />
<circle cx="527.00" cy="27.90" r="1.89" fill="#c0c0c0"/>
<line x1="521.80" y1="28.60" x2="521.80" y2="34.60" stroke="#d0d0d0" stroke-width="0.6" />
<line x1="520.60" y1="28.60" x2="523.00" y2="28.60" stroke="#d0d0d0" stroke-width="0.6" />
<line x1="520.60" y1="34.60" x2="523.00" y2="34.60" stroke="#d0d0d0" stroke-width="0.6" />
<polygon points="521.80,29.44 522.38,30.80 523.85,30.93 522.74,31.91 523.07,33.35 521.80,32.59 520.53,33.35 520.86,31.91 519.75,30.93 521.22,30.80" fill="#c8c8c8"/>
<line x1="518.90" y1="31.50" x2="518.90" y2="37.50" stroke="#d0d0d0" stroke-width="0.6" />
<line x1="517.70" y1="31.50" x2="520.10" y2="31.50" stroke="#d0d0d0" stroke-width="0.6" />
<line x1="517.70" y1="37.50" x2="520.10" y2="37.50" stroke="#d0d0d0" stroke-width="0.6" />
<circle cx="518.90" cy="34.50" r="1.89" fill="#c0c0c0"/>
<line x1="519.70" y1="35.20" x2="519.70" y2="41.20" stroke="#d0d0d0" stroke-width="0.6" />
<line x1="518.50" y1="35.20" x2="520.90" y2="35.20" stroke="#d0d0d0" stroke-width="0.6" />
<line x1="518.50" y1="41.20" x2="520.90" y2="41.20" stroke="#d0d0d0" stroke-width="0.6" />
<polygon points="519.70,36.04 520.28,37.40 521.75,37.53 520.64,38.51 520.97,39.95 519.70,39.19 518.43,39.95 518.76,38.51 517.65,37.53 519.12,37.40" fill="#c8c8c8"/>
<line x1="513.80" y1="38.10" x2="513.80" y2="44.10" stroke="#d0d0d0" stroke-width="0.6" />
<line x1="512.60" y1="38.10" x2="515.00" y2="38.10" stroke="#d0d0d0" stroke-width="0.6" />
<line x1="512.60" y1="44.10" x2="515.00" y2="44.10" stroke="#d0d0d0" stroke-width="0.6" />
<circle cx="513.80" cy="41.10" r="1.89" fill="#c0c0c0"/>
<line x1="510.90" y1="39.60" x2="510.90" y2="45.60" stroke="#d0d0d0" stroke-width="0.6" />
<line x1="509.70" y1="39.60" x2="512.10" y2="39.60" stroke="#d0d0d0" stroke-width="0.6" />
<line x1="509.70" y1="45.60" x2="512.10" y2="45.60" stroke="#d0d0d0" stroke-width="0.6" />
<polygon points="510.90,40.44 511.48,41.80 512.95,41.93 511.84,42.91 512.17,44.35 510.90,43.59 509.63,44.35 509.96,42.91 508.85,41.93 510.32,41.80" fill="#c8c8c8"/>
<line x1="513.80" y1="42.50" x2="513.80" y2="48.50" stroke="#d0d0d0" stroke-width="0.6" />
<line x1="512.60" y1="42.50" x2="515.00" y2="42.50" stroke="#d0d0d0" stroke-width="0.6" />
<line x1="512.60" y1="48.50" x2="515.00" y2="48.50" stroke="#d0d0d0" stroke-width="0.6" />
<circle cx="513.80" cy="45.50" r="1.89" fill="#c0c0c0"/>
<line x1="507.90" y1="41.80" x2="507.90" y2="47.80" stroke="#d0d0d0" stroke-width="0.6" />
<line x1="506.70" y1="41.80" x2="509.10" y2="41.80" stroke="#d0d0d0" stroke-width="0.6" />
<line x1="506.70" y1="47.80" x2="509.10" y2="47.80" stroke="#d0d0d0" stroke-width="0.6" />
<polygon points="507.90,42.64 508.48,44.00 509.95,44.13 508.84,45.11 509.17,46.55 507.90,45.79 506.63,46.55 506.96,45.11 505.85,44.13 507.32,44.00" fill="#c8c8c8"/>
<line x1="506.50" y1="44.70" x2="506.50" y2="50.70" stroke="#d0d0d0" stroke-width="0.6" />
<line x1="505.30" y1="44.70" x2="507.70" y2="44.70" stroke="#d0d0d0" stroke-width="0.6" />
<line x1="505.30" y1="50.70" x2="507.70" y2="50.70" stroke="#d0d0d0" stroke-width="0.6" />
<circle cx="506.50" cy="47.70" r="1.89" fill="#c0c0c0"/>
<line x1="481.60" y1="62.50" x2="481.60" y2="68.50" stroke="#d0d0d0" stroke-width="0.6" />
<line x1="480.40" y1="62.50" x2="482.80" y2="62.50" stroke="#d0d0d0" stroke-width="0.6" />
<line x1="480.40" y1="68.50" x2="482.80" y2="68.50" stroke="#d0d0d0" stroke-width="0.6" />
<polygon points="481.60,63.34 482.18,64.70 483.65,64.83 482.54,65.81 482.87,67.25 481.60,66.49 480.33,67.25 480.66,65.81 479.55,64.83 481.02,64.70" fill="#c8c8c8"/>
<line x1="487.50" y1="66.50" x2="487.50" y2="72.50" stroke="#d0d0d0" stroke-width="0.6" />
<line x1="486.30" y1="66.50" x2="488.70" y2="66.50" stroke="#d0d0d0" stroke-width="0.6" />
<line x1="486.30" y1="72.50" x2="488.70" y2="72.50" stroke="#d0d0d0" stroke-width="0.6" />
<circle cx="487.50" cy="69.50" r="1.89" fill="#c0c0c0"/>
<line x1="480.90" y1="71.80" x2="480.90" y2="77.80" stroke="#d0d0d0" stroke-width="0.6" />
<line x1="479.70" y1="71.80" x2="482.10" y2="71.80" stroke="#d0d0d0" stroke-width="0.6" />
<line x1="479.70" y1="77.80" x2="482.10" y2="77.80" stroke="#d0d0d0" stroke-width="0.6" />
<polygon points="480.90,72.64 481.48,74.00 482.95,74.13 481.84,75.11 482.17,76.55 480.90,75.79 479.63,76.55 479.96,75.11 478.85,74.13 480.32,74.00" fill="#c8c8c8"/>
<line x1="476.30" y1="73.80" x2="476.30" y2="79.80" stroke="#d0d0d0" stroke-width="0.6" />
<line x1="475.10" y1="73.80" x2="477.50" y2="73.80" stroke="#d0d0d0" stroke-width="0.6" />
<line x1="475.10" y1="79.80" x2="477.50" y2="79.80" stroke="#d0d0d0" stroke-width="0.6" />
<circle cx="476.30" cy="76.80" r="1.89" fill="#c0c0c0"/>
<line x1="475.70" y1="80.40" x2="475.70" y2="86.40" stroke="#d0d0d0" stroke-width="0.6" />
<line x1="474.50" y1="80.40" x2="476.90" y2="80.40" stroke="#d0d0d0" stroke-width="0.6" />
<line x1="474.50" y1="86.40" x2="476.90" y2="86.40" stroke="#d0d0d0" stroke-width="0.6" />
<polygon points="475.70,81.24 476.28,82.60 477.75,82.73 476.64,83.71 476.97,85.15 475.70,84.39 474.43,85.15 474.76,83.71 473.65,82.73 475.12,82.60" fill="#c8c8c8"/>
<line x1="467.10" y1="84.30" x2="467.10" y2="90.30" stroke="#d0d0d0" stroke-width="0.6" />
<line x1="465.90" y1="84.30" x2="468.30" y2="84.30" stroke="#d0d0d0" stroke-width="0.6" />
<line x1="465.90" y1="90.30" x2="468.30" y2="90.30" stroke="#d0d0d0" stroke-width="0.6" />
<circle cx="467.10" cy="87.30" r="1.89" fill="#c0c0c0"/>
<line x1="471.50" y1="79.90" x2="471.50" y2="85.90" stroke="#d0d0d0" stroke-width="0.6" />
<line x1="470.30" y1="79.90" x2="472.70" y2="79.90" stroke="#d0d0d0" stroke-width="0.6" />
<line x1="470.30" y1="85.90" x2="472.70" y2="85.90" stroke="#d0d0d0" stroke-width="0.6" />
<polygon points="471.50,80.74 472.08,82.10 473.55,82.23 472.44,83.21 472.77,84.65 471.50,83.89 470.23,84.65 470.56,83.21 469.45,82.23 470.92,82.10" fill="#c8c8c8"/>
<line x1="476.80" y1="73.70" x2="476.80" y2="79.70" stroke="#d0d0d0" stroke-width="0.6" />
<line x1="475.60" y1="73.70" x2="478.00" y2="73.70" stroke="#d0d0d0" stroke-width="0.6" />
<line x1="475.60" y1="79.70" x2="478.00" y2="79.70" stroke="#d0d0d0" stroke-width="0.6" />
<circle cx="476.80" cy="76.70" r="1.89" fill="#c0c0c0"/>
<line x1="481.20" y1="72.80" x2="481.20" y2="78.80" stroke="#d0d0d0" stroke-width="0.6" />
<line x1="480.00" y1="72.80" x2="482.40" y2="72.80" stroke="#d0d0d0" stroke-width="0.6" />
<line x1="480.00" y1="78.80" x2="482.40" y2="78.80" stroke="#d0d0d0" stroke-width="0.6" />
<polygon points="481.20,73.64 481.78,75.00 483.25,75.13 482.14,76.11 482.47,77.55 481.20,76.79 479.93,77.55 480.26,76.11 479.15,75.13 480.62,75.00" fill="#c8c8c8"/>
<line x1="462.30" y1="97.10" x2="462.30" y2="103.10" stroke="#d0d0d0" stroke-width="0.6" />
<line x1="461.10" y1="97.10" x2="463.50" y2="97.10" stroke="#d0d0d0" stroke-width="0.6" />
<line x1="461.10" y1="103.10" x2="463.50" y2="103.10" stroke="#d0d0d0" stroke-width="0.6" />
<circle cx="462.30" cy="100.10" r="1.89" fill="#c0c0c0"/>
<line x1="448.30" y1="113.40" x2="448.30" y2="119.40" stroke="#d0d0d0" stroke-width="0.6" />
<line x1="447.10" y1="113.40" x2="449.50" y2="113.40" stroke="#d0d0d0" stroke-width="0.6" />
<line x1="447.10" y1="119.40" x2="449.50" y2="119.40" stroke="#d0d0d0" stroke-width="0.6" />
<polygon points="448.30,114.24 448.88,115.60 450.35,115.73 449.24,116.71 449.57,118.15 448.30,117.39 447.03,118.15 447.36,116.71 446.25,115.73 447.72,115.60" fill="#c8c8c8"/>
<line x1="453.00" y1="139.70" x2="559.20" y2="14.90" stroke="#000" stroke-width="1.3" stroke-dasharray="4,3"/>
<rect x="458.63" y="122.23" width="3.34" height="3.34" fill="#000" />
<circle cx="462.80" cy="120.30" r="1.94" fill="#ff0000"/>
<path d="M470.90,114.91 L473.07,118.69 L468.73,118.69 Z" fill="#0000ff"/>
<rect x="473.13" y="111.63" width="3.34" height="3.34" fill="#000" />
<circle cx="476.80" cy="113.00" r="1.94" fill="#ff0000"/>
<circle cx="472.40" cy="100.10" r="1.94" fill="#ff0000"/>
<circle cx="480.00" cy="106.00" r="1.94" fill="#ff0000"/>
<rect x="480.33" y="105.83" width="3.34" height="3.34" fill="#000" />
<path d="M484.90,103.21 L487.07,106.99 L482.73,106.99 Z" fill="#0000ff"/>
<circle cx="483.30" cy="101.70" r="1.94" fill="#ff0000"/>
<rect x="481.63" y="106.23" width="3.34" height="3.34" fill="#000" />
<circle cx="486.00" cy="104.80" r="1.94" fill="#ff0000"/>
<circle cx="489.50" cy="103.20" r="1.94" fill="#ff0000"/>
<circle cx="495.40" cy="102.40" r="1.94" fill="#ff0000"/>
<circle cx="492.60" cy="98.50" r="1.94" fill="#ff0000"/>
<path d="M490.20,94.11 L492.37,97.89 L488.03,97.89 Z" fill="#0000ff"/>
<circle cx="493.50" cy="93.20" r="1.94" fill="#ff0000"/>
<path d="M496.80,87.01 L498.97,90.79 L494.63,90.79 Z" fill="#0000ff"/>
<rect x="492.33" y="90.33" width="3.34" height="3.34" fill="#000" />
<circle cx="500.00" cy="86.60" r="1.94" fill="#ff0000"/>
<path d="M501.40,82.41 L503.57,86.19 L499.23,86.19 Z" fill="#0000ff"/>
<rect x="500.83" y="83.83" width="3.34" height="3.34" fill="#000" />
<circle cx="505.30" cy="82.00" r="1.94" fill="#ff0000"/>
<rect x="504.93" y="77.03" width="3.34" height="3.34" fill="#000" />
<circle cx="509.30" cy="75.40" r="1.94" fill="#ff0000"/>
<path d="M508.00,69.81 L510.17,73.59 L505.83,73.59 Z" fill="#0000ff"/>
<rect x="508.93" y="68.53" width="3.34" height="3.34" fill="#000" />
<path d="M513.20,63.21 L515.37,66.99 L511.03,66.99 Z" fill="#0000ff"/>
<circle cx="515.90" cy="63.60" r="1.94" fill="#ff0000"/>
<path d="M521.20,64.61 L523.37,68.39 L519.03,68.39 Z" fill="#0000ff"/>
<path d="M519.80,58.01 L521.97,61.79 L517.63,61.79 Z" fill="#0000ff"/>
<circle cx="520.50" cy="56.30" r="1.94" fill="#ff0000"/>
<rect x="523.43" y="57.33" width="3.34" height="3.34" fill="#000" />
<rect x="523.13" y="57.03" width="3.34" height="3.34" fill="#000" />
<path d="M519.70,58.61 L521.87,62.39 L517.53,62.39 Z" fill="#0000ff"/>
<path d="M513.80,60.81 L515.97,64.59 L511.63,64.59 Z" fill="#0000ff"/>
<path d="M549.00,24.21 L551.17,27.99 L546.83,27.99 Z" fill="#0000ff"/>
<path d="M540.20,32.21 L542.37,35.99 L538.03,35.99 Z" fill="#0000ff"/>
<path d="M540.50,33.71 L542.67,37.49 L538.33,37.49 Z" fill="#0000ff"/>
<rect x="539.23" y="35.03" width="3.34" height="3.34" fill="#000" />
<path d="M536.50,38.81 L538.67,42.59 L534.33,42.59 Z" fill="#0000ff"/>
<path d="M531.40,41.01 L533.57,44.79 L529.23,44.79 Z" fill="#0000ff"/>
<circle cx="527.70" cy="44.80" r="1.94" fill="#ff0000"/>
<rect x="529.73" y="46.03" width="3.34" height="3.34" fill="#000" />
<path d="M527.70,49.11 L529.87,52.89 L525.53,52.89 Z" fill="#0000ff"/>
<circle cx="520.40" cy="56.50" r="1.94" fill="#ff0000"/>
<circle cx="498.00" cy="92.00" r="1.94" fill="#ff0000"/>
<path d="M494.40,90.21 L496.57,93.99 L492.23,93.99 Z" fill="#0000ff"/>
<circle cx="497.50" cy="90.50" r="1.94" fill="#ff0000"/>
<circle cx="499.10" cy="87.80" r="1.94" fill="#ff0000"/>
<path d="M500.00,87.71 L502.17,91.49 L497.83,91.49 Z" fill="#0000ff"/>
<path d="M505.00,77.31 L507.17,81.09 L502.83,81.09 Z" fill="#0000ff"/>
<circle cx="507.90" cy="77.30" r="1.94" fill="#ff0000"/>
<circle cx="510.80" cy="75.50" r="1.94" fill="#ff0000"/>
<path d="M507.30,69.11 L509.47,72.89 L505.13,72.89 Z" fill="#0000ff"/>
<rect x="510.33" y="67.43" width="3.34" height="3.34" fill="#000" />
<path d="M513.70,62.11 L515.87,65.89 L511.53,65.89 Z" fill="#0000ff"/>
<circle cx="516.10" cy="65.60" r="1.94" fill="#ff0000"/>
<path d="M520.20,58.61 L522.37,62.39 L518.03,62.39 Z" fill="#0000ff"/>
<path d="M521.40,63.81 L523.57,67.59 L519.23,67.59 Z" fill="#0000ff"/>
<circle cx="520.20" cy="56.20" r="1.94" fill="#ff0000"/>
<rect x="522.03" y="55.13" width="3.34" height="3.34" fill="#000" />
<circle cx="503.00" cy="88.00" r="1.94" fill="#ff0000"/>
<rect x="496.33" y="86.33" width="3.34" height="3.34" fill="#000" />
<circle cx="486.50" cy="100.00" r="1.94" fill="#ff0000"/>
<path d="M480.50,105.71 L482.67,109.49 L478.33,109.49 Z" fill="#0000ff"/>
<circle cx="507.00" cy="80.00" r="1.94" fill="#ff0000"/>
<path d="M505.00,78.21 L507.17,81.99 L502.83,81.99 Z" fill="#0000ff"/>
<rect x="510.33" y="67.33" width="3.34" height="3.34" fill="#000" />
<circle cx="511.00" cy="73.00" r="1.94" fill="#ff0000"/>
<path d="M516.00,61.71 L518.17,65.49 L513.83,65.49 Z" fill="#0000ff"/>
<rect x="515.33" y="60.33" width="3.34" height="3.34" fill="#000" />
<line x1="472.40" y1="95.40" x2="472.40" y2="105.50" stroke="#ff0000" stroke-width="0.6" />
<line x1="471.00" y1="95.40" x2="473.80" y2="95.40" stroke="#ff0000" stroke-width="0.6" />
<line x1="471.00" y1="105.50" x2="473.80" y2="105.50" stroke="#ff0000" stroke-width="0.6" />
<line x1="495.40" y1="98.50" x2="495.40" y2="106.50" stroke="#ff0000" stroke-width="0.6" />
<line x1="494.00" y1="98.50" x2="496.80" y2="98.50" stroke="#ff0000" stroke-width="0.6" />
<line x1="494.00" y1="106.50" x2="496.80" y2="106.50" stroke="#ff0000" stroke-width="0.6" />
<line x1="460.30" y1="121.00" x2="460.30" y2="127.00" stroke="#000" stroke-width="0.6" />
<line x1="459.10" y1="121.00" x2="461.50" y2="121.00" stroke="#000" stroke-width="0.6" />
<line x1="459.10" y1="127.00" x2="461.50" y2="127.00" stroke="#000" stroke-width="0.6" />
<line x1="470.90" y1="114.00" x2="470.90" y2="120.50" stroke="#0000ff" stroke-width="0.6" />
<line x1="469.70" y1="114.00" x2="472.10" y2="114.00" stroke="#0000ff" stroke-width="0.6" />
<line x1="469.70" y1="120.50" x2="472.10" y2="120.50" stroke="#0000ff" stroke-width="0.6" />
<path d="M446.5,14.5 H568.5 V142.5 H446.5" fill="none" stroke="#000" stroke-width="0.9"/>
<line x1="446.50" y1="14.50" x2="446.50" y2="142.50" stroke="#666" stroke-width="1.6" />
<line x1="446.60" y1="142.50" x2="446.60" y2="144.50" stroke="#000" stroke-width="0.7" />
<text x="446.60" y="153.20" font-size="9" text-anchor="middle" fill="#111" font-weight="normal" font-style="normal" transform="translate(0 153.20) scale(1 1.07) translate(0 -153.20)"  stroke="#111" stroke-width="0.25">1</text>
<line x1="499.30" y1="142.50" x2="499.30" y2="144.50" stroke="#000" stroke-width="0.7" />
<text x="499.30" y="153.20" font-size="9" text-anchor="middle" fill="#111" font-weight="normal" font-style="normal" transform="translate(0 153.20) scale(1 1.07) translate(0 -153.20)"  stroke="#111" stroke-width="0.25">10</text>
<line x1="552.00" y1="142.50" x2="552.00" y2="144.50" stroke="#000" stroke-width="0.7" />
<text x="552.00" y="153.20" font-size="9" text-anchor="middle" fill="#111" font-weight="normal" font-style="normal" transform="translate(0 153.20) scale(1 1.07) translate(0 -153.20)"  stroke="#111" stroke-width="0.25">100</text>
<line x1="462.46" y1="142.50" x2="462.46" y2="143.70" stroke="#000" stroke-width="0.6" />
<line x1="462.46" y1="14.50" x2="462.46" y2="15.70" stroke="#000" stroke-width="0.6" />
<line x1="471.74" y1="142.50" x2="471.74" y2="143.70" stroke="#000" stroke-width="0.6" />
<line x1="471.74" y1="14.50" x2="471.74" y2="15.70" stroke="#000" stroke-width="0.6" />
<line x1="478.33" y1="142.50" x2="478.33" y2="143.70" stroke="#000" stroke-width="0.6" />
<line x1="478.33" y1="14.50" x2="478.33" y2="15.70" stroke="#000" stroke-width="0.6" />
<line x1="483.44" y1="142.50" x2="483.44" y2="143.70" stroke="#000" stroke-width="0.6" />
<line x1="483.44" y1="14.50" x2="483.44" y2="15.70" stroke="#000" stroke-width="0.6" />
<line x1="487.61" y1="142.50" x2="487.61" y2="143.70" stroke="#000" stroke-width="0.6" />
<line x1="487.61" y1="14.50" x2="487.61" y2="15.70" stroke="#000" stroke-width="0.6" />
<line x1="491.14" y1="142.50" x2="491.14" y2="143.70" stroke="#000" stroke-width="0.6" />
<line x1="491.14" y1="14.50" x2="491.14" y2="15.70" stroke="#000" stroke-width="0.6" />
<line x1="494.19" y1="142.50" x2="494.19" y2="143.70" stroke="#000" stroke-width="0.6" />
<line x1="494.19" y1="14.50" x2="494.19" y2="15.70" stroke="#000" stroke-width="0.6" />
<line x1="496.89" y1="142.50" x2="496.89" y2="143.70" stroke="#000" stroke-width="0.6" />
<line x1="496.89" y1="14.50" x2="496.89" y2="15.70" stroke="#000" stroke-width="0.6" />
<line x1="515.16" y1="142.50" x2="515.16" y2="143.70" stroke="#000" stroke-width="0.6" />
<line x1="515.16" y1="14.50" x2="515.16" y2="15.70" stroke="#000" stroke-width="0.6" />
<line x1="524.44" y1="142.50" x2="524.44" y2="143.70" stroke="#000" stroke-width="0.6" />
<line x1="524.44" y1="14.50" x2="524.44" y2="15.70" stroke="#000" stroke-width="0.6" />
<line x1="531.03" y1="142.50" x2="531.03" y2="143.70" stroke="#000" stroke-width="0.6" />
<line x1="531.03" y1="14.50" x2="531.03" y2="15.70" stroke="#000" stroke-width="0.6" />
<line x1="536.14" y1="142.50" x2="536.14" y2="143.70" stroke="#000" stroke-width="0.6" />
<line x1="536.14" y1="14.50" x2="536.14" y2="15.70" stroke="#000" stroke-width="0.6" />
<line x1="540.31" y1="142.50" x2="540.31" y2="143.70" stroke="#000" stroke-width="0.6" />
<line x1="540.31" y1="14.50" x2="540.31" y2="15.70" stroke="#000" stroke-width="0.6" />
<line x1="543.84" y1="142.50" x2="543.84" y2="143.70" stroke="#000" stroke-width="0.6" />
<line x1="543.84" y1="14.50" x2="543.84" y2="15.70" stroke="#000" stroke-width="0.6" />
<line x1="546.89" y1="142.50" x2="546.89" y2="143.70" stroke="#000" stroke-width="0.6" />
<line x1="546.89" y1="14.50" x2="546.89" y2="15.70" stroke="#000" stroke-width="0.6" />
<line x1="549.59" y1="142.50" x2="549.59" y2="143.70" stroke="#000" stroke-width="0.6" />
<line x1="549.59" y1="14.50" x2="549.59" y2="15.70" stroke="#000" stroke-width="0.6" />
<line x1="567.86" y1="142.50" x2="567.86" y2="143.70" stroke="#000" stroke-width="0.6" />
<line x1="567.86" y1="14.50" x2="567.86" y2="15.70" stroke="#000" stroke-width="0.6" />
<line x1="444.50" y1="15.10" x2="446.50" y2="15.10" stroke="#000" stroke-width="0.7" />
<line x1="566.50" y1="15.10" x2="568.50" y2="15.10" stroke="#000" stroke-width="0.7" />
<text x="442.50" y="18.10" font-size="9" text-anchor="end" fill="#111" font-weight="normal" font-style="normal" transform="translate(0 18.10) scale(1 1.07) translate(0 -18.10)"  stroke="#111" stroke-width="0.25">1</text>
<line x1="444.50" y1="62.30" x2="446.50" y2="62.30" stroke="#000" stroke-width="0.7" />
<line x1="566.50" y1="62.30" x2="568.50" y2="62.30" stroke="#000" stroke-width="0.7" />
<text x="442.50" y="65.30" font-size="9" text-anchor="end" fill="#111" font-weight="normal" font-style="normal" transform="translate(0 65.30) scale(1 1.07) translate(0 -65.30)"  stroke="#111" stroke-width="0.25">0.1</text>
<line x1="444.50" y1="109.50" x2="446.50" y2="109.50" stroke="#000" stroke-width="0.7" />
<line x1="566.50" y1="109.50" x2="568.50" y2="109.50" stroke="#000" stroke-width="0.7" />
<text x="442.50" y="112.50" font-size="9" text-anchor="end" fill="#111" font-weight="normal" font-style="normal" transform="translate(0 112.50) scale(1 1.07) translate(0 -112.50)"  stroke="#111" stroke-width="0.25">0.01</text>
<line x1="445.30" y1="142.49" x2="446.50" y2="142.49" stroke="#000" stroke-width="0.6" />
<line x1="567.30" y1="142.49" x2="568.50" y2="142.49" stroke="#000" stroke-width="0.6" />
<line x1="445.30" y1="134.18" x2="446.50" y2="134.18" stroke="#000" stroke-width="0.6" />
<line x1="567.30" y1="134.18" x2="568.50" y2="134.18" stroke="#000" stroke-width="0.6" />
<line x1="445.30" y1="128.28" x2="446.50" y2="128.28" stroke="#000" stroke-width="0.6" />
<line x1="567.30" y1="128.28" x2="568.50" y2="128.28" stroke="#000" stroke-width="0.6" />
<line x1="445.30" y1="123.71" x2="446.50" y2="123.71" stroke="#000" stroke-width="0.6" />
<line x1="567.30" y1="123.71" x2="568.50" y2="123.71" stroke="#000" stroke-width="0.6" />
<line x1="445.30" y1="119.97" x2="446.50" y2="119.97" stroke="#000" stroke-width="0.6" />
<line x1="567.30" y1="119.97" x2="568.50" y2="119.97" stroke="#000" stroke-width="0.6" />
<line x1="445.30" y1="116.81" x2="446.50" y2="116.81" stroke="#000" stroke-width="0.6" />
<line x1="567.30" y1="116.81" x2="568.50" y2="116.81" stroke="#000" stroke-width="0.6" />
<line x1="445.30" y1="114.07" x2="446.50" y2="114.07" stroke="#000" stroke-width="0.6" />
<line x1="567.30" y1="114.07" x2="568.50" y2="114.07" stroke="#000" stroke-width="0.6" />
<line x1="445.30" y1="111.66" x2="446.50" y2="111.66" stroke="#000" stroke-width="0.6" />
<line x1="567.30" y1="111.66" x2="568.50" y2="111.66" stroke="#000" stroke-width="0.6" />
<line x1="445.30" y1="95.29" x2="446.50" y2="95.29" stroke="#000" stroke-width="0.6" />
<line x1="567.30" y1="95.29" x2="568.50" y2="95.29" stroke="#000" stroke-width="0.6" />
<line x1="445.30" y1="86.98" x2="446.50" y2="86.98" stroke="#000" stroke-width="0.6" />
<line x1="567.30" y1="86.98" x2="568.50" y2="86.98" stroke="#000" stroke-width="0.6" />
<line x1="445.30" y1="81.08" x2="446.50" y2="81.08" stroke="#000" stroke-width="0.6" />
<line x1="567.30" y1="81.08" x2="568.50" y2="81.08" stroke="#000" stroke-width="0.6" />
<line x1="445.30" y1="76.51" x2="446.50" y2="76.51" stroke="#000" stroke-width="0.6" />
<line x1="567.30" y1="76.51" x2="568.50" y2="76.51" stroke="#000" stroke-width="0.6" />
<line x1="445.30" y1="72.77" x2="446.50" y2="72.77" stroke="#000" stroke-width="0.6" />
<line x1="567.30" y1="72.77" x2="568.50" y2="72.77" stroke="#000" stroke-width="0.6" />
<line x1="445.30" y1="69.61" x2="446.50" y2="69.61" stroke="#000" stroke-width="0.6" />
<line x1="567.30" y1="69.61" x2="568.50" y2="69.61" stroke="#000" stroke-width="0.6" />
<line x1="445.30" y1="66.87" x2="446.50" y2="66.87" stroke="#000" stroke-width="0.6" />
<line x1="567.30" y1="66.87" x2="568.50" y2="66.87" stroke="#000" stroke-width="0.6" />
<line x1="445.30" y1="64.46" x2="446.50" y2="64.46" stroke="#000" stroke-width="0.6" />
<line x1="567.30" y1="64.46" x2="568.50" y2="64.46" stroke="#000" stroke-width="0.6" />
<line x1="445.30" y1="48.09" x2="446.50" y2="48.09" stroke="#000" stroke-width="0.6" />
<line x1="567.30" y1="48.09" x2="568.50" y2="48.09" stroke="#000" stroke-width="0.6" />
<line x1="445.30" y1="39.78" x2="446.50" y2="39.78" stroke="#000" stroke-width="0.6" />
<line x1="567.30" y1="39.78" x2="568.50" y2="39.78" stroke="#000" stroke-width="0.6" />
<line x1="445.30" y1="33.88" x2="446.50" y2="33.88" stroke="#000" stroke-width="0.6" />
<line x1="567.30" y1="33.88" x2="568.50" y2="33.88" stroke="#000" stroke-width="0.6" />
<line x1="445.30" y1="29.31" x2="446.50" y2="29.31" stroke="#000" stroke-width="0.6" />
<line x1="567.30" y1="29.31" x2="568.50" y2="29.31" stroke="#000" stroke-width="0.6" />
<line x1="445.30" y1="25.57" x2="446.50" y2="25.57" stroke="#000" stroke-width="0.6" />
<line x1="567.30" y1="25.57" x2="568.50" y2="25.57" stroke="#000" stroke-width="0.6" />
<line x1="445.30" y1="22.41" x2="446.50" y2="22.41" stroke="#000" stroke-width="0.6" />
<line x1="567.30" y1="22.41" x2="568.50" y2="22.41" stroke="#000" stroke-width="0.6" />
<line x1="445.30" y1="19.67" x2="446.50" y2="19.67" stroke="#000" stroke-width="0.6" />
<line x1="567.30" y1="19.67" x2="568.50" y2="19.67" stroke="#000" stroke-width="0.6" />
<line x1="445.30" y1="17.26" x2="446.50" y2="17.26" stroke="#000" stroke-width="0.6" />
<line x1="567.30" y1="17.26" x2="568.50" y2="17.26" stroke="#000" stroke-width="0.6" />
<rect x="446.50" y="14.50" width="18.30" height="16.40" fill="#000" />
<text x="455.65" y="27.70" font-size="14.6" text-anchor="middle" fill="#fff" font-weight="bold" font-style="normal"  transform="translate(0 27.70) scale(1 1.08) translate(0 -27.70)">G</text>
<text x="450.3" y="40.3" font-size="5.6" font-weight="bold" fill="#111" textLength="34" lengthAdjust="spacingAndGlyphs" stroke="#111" stroke-width="0.18" transform="translate(0 40.30) scale(1 1.08) translate(0 -40.30)">&lt;L·W&gt; ∝ &lt;N&gt;</text><text x="485" y="38.2" font-size="4.6" font-weight="bold" fill="#111" stroke="#111" stroke-width="0.18" transform="translate(0 38.20) scale(1 1.08) translate(0 -38.20)">β</text>
<rect x="507.39" y="92.39" width="3.42" height="3.42" fill="#000" />
<circle cx="509.10" cy="102.90" r="2.09" fill="#ff0000"/>
<path d="M509.10,109.86 L511.32,113.72 L506.88,113.72 Z" fill="#0000ff"/>
<text x="517.9" y="96.6" font-size="6.3" fill="#111" stroke="#111" stroke-width="0.18" transform="translate(0 96.60) scale(1 1.08) translate(0 -96.60)">Fe<tspan dy="1.5" font-size="4.3">2</tspan><tspan dy="-1.5">P</tspan><tspan dy="1.5" font-size="4.3">2</tspan><tspan dy="-1.5">S</tspan><tspan dy="1.5" font-size="4.3">6</tspan><tspan dy="-1.5"> (CHP)</tspan></text>
<text x="517.9" y="105.4" font-size="6.3" fill="#111" stroke="#111" stroke-width="0.18" transform="translate(0 105.40) scale(1 1.08) translate(0 -105.40)">Ni<tspan dy="1.5" font-size="4.3">2</tspan><tspan dy="-1.5">P</tspan><tspan dy="1.5" font-size="4.3">2</tspan><tspan dy="-1.5">S</tspan><tspan dy="1.5" font-size="4.3">6</tspan><tspan dy="-1.5"> (CHP)</tspan></text>
<text x="517.9" y="114.6" font-size="6.3" fill="#111" stroke="#111" stroke-width="0.18" transform="translate(0 114.60) scale(1 1.08) translate(0 -114.60)">Mn<tspan dy="1.5" font-size="4.3">2</tspan><tspan dy="-1.5">P</tspan><tspan dy="1.5" font-size="4.3">2</tspan><tspan dy="-1.5">S</tspan><tspan dy="1.5" font-size="4.3">6</tspan><tspan dy="-1.5"> (CHP)</tspan></text>
<text x="503.10" y="124.00" font-size="6.1" text-anchor="start" fill="#111" font-weight="normal" font-style="normal"  stroke="#111" stroke-width="0.18" transform="translate(0 124.00) scale(1 1.08) translate(0 -124.00)">Reference:</text>
<polygon points="510.00,127.84 510.58,129.20 512.05,129.33 510.94,130.31 511.27,131.75 510.00,130.99 508.73,131.75 509.06,130.31 507.95,129.33 509.42,129.20" fill="#c8c8c8"/>
<circle cx="510.00" cy="137.20" r="1.89" fill="#c0c0c0"/>
<text x="519.10" y="132.20" font-size="6.2" text-anchor="start" fill="#111" font-weight="normal" font-style="normal"  stroke="#111" stroke-width="0.18" transform="translate(0 132.20) scale(1 1.08) translate(0 -132.20)">Graphene (NMP)</text>
<text x="519.1" y="139.4" font-size="6.2" fill="#111" stroke="#111" stroke-width="0.18" transform="translate(0 139.40) scale(1 1.08) translate(0 -139.40)">Graphene (SC<tspan dy="1.4" font-size="4.2">aq</tspan><tspan dy="-1.4">)</tspan></text>
<text x="507.30" y="168.70" font-size="9.5" text-anchor="middle" fill="#111" font-weight="normal" font-style="normal"  stroke="#111" stroke-width="0.25" transform="translate(0 168.70) scale(1 1.08) translate(0 -168.70)">Mean Layer Number, &lt;N&gt;</text>
<text x="0" y="0" font-size="9.5" text-anchor="middle" fill="#111" transform="translate(420.9 78.5) rotate(-90)" stroke="#111" stroke-width="0.25">Mean Area, &lt;L·W&gt; (μm<tspan dy="-3" font-size="6.5">2</tspan><tspan dy="3">)</tspan></text>
<line x1="446.50" y1="270.20" x2="567.50" y2="270.20" stroke="#000" stroke-width="1.3" stroke-dasharray="4.5,2.5"/>
<line x1="446.50" y1="273.90" x2="567.50" y2="273.90" stroke="#ff0000" stroke-width="1.3" stroke-dasharray="4.5,2.5"/>
<line x1="446.50" y1="279.20" x2="567.50" y2="279.20" stroke="#0000ff" stroke-width="1.3" stroke-dasharray="4.5,2.5"/>
<line x1="461.60" y1="271.00" x2="461.60" y2="279.00" stroke="#555" stroke-width="0.6" />
<line x1="460.40" y1="271.00" x2="462.80" y2="271.00" stroke="#555" stroke-width="0.6" />
<line x1="460.40" y1="279.00" x2="462.80" y2="279.00" stroke="#555" stroke-width="0.6" />
<line x1="473.50" y1="266.50" x2="473.50" y2="272.50" stroke="#8888ff" stroke-width="0.6" />
<line x1="472.30" y1="266.50" x2="474.70" y2="266.50" stroke="#8888ff" stroke-width="0.6" />
<line x1="472.30" y1="272.50" x2="474.70" y2="272.50" stroke="#8888ff" stroke-width="0.6" />
<line x1="478.10" y1="266.50" x2="478.10" y2="272.00" stroke="#555" stroke-width="0.6" />
<line x1="476.90" y1="266.50" x2="479.30" y2="266.50" stroke="#555" stroke-width="0.6" />
<line x1="476.90" y1="272.00" x2="479.30" y2="272.00" stroke="#555" stroke-width="0.6" />
<line x1="484.70" y1="264.50" x2="484.70" y2="270.00" stroke="#555" stroke-width="0.6" />
<line x1="483.50" y1="264.50" x2="485.90" y2="264.50" stroke="#555" stroke-width="0.6" />
<line x1="483.50" y1="270.00" x2="485.90" y2="270.00" stroke="#555" stroke-width="0.6" />
<line x1="488.60" y1="262.50" x2="488.60" y2="270.00" stroke="#555" stroke-width="0.6" />
<line x1="487.40" y1="262.50" x2="489.80" y2="262.50" stroke="#555" stroke-width="0.6" />
<line x1="487.40" y1="270.00" x2="489.80" y2="270.00" stroke="#555" stroke-width="0.6" />
<line x1="491.90" y1="261.90" x2="491.90" y2="267.00" stroke="#555" stroke-width="0.6" />
<line x1="490.70" y1="261.90" x2="493.10" y2="261.90" stroke="#555" stroke-width="0.6" />
<line x1="490.70" y1="267.00" x2="493.10" y2="267.00" stroke="#555" stroke-width="0.6" />
<line x1="488.60" y1="274.00" x2="488.60" y2="281.60" stroke="#8888ff" stroke-width="0.6" />
<line x1="487.40" y1="274.00" x2="489.80" y2="274.00" stroke="#8888ff" stroke-width="0.6" />
<line x1="487.40" y1="281.60" x2="489.80" y2="281.60" stroke="#8888ff" stroke-width="0.6" />
<line x1="501.80" y1="253.30" x2="501.80" y2="262.00" stroke="#555" stroke-width="0.6" />
<line x1="500.60" y1="253.30" x2="503.00" y2="253.30" stroke="#555" stroke-width="0.6" />
<line x1="500.60" y1="262.00" x2="503.00" y2="262.00" stroke="#555" stroke-width="0.6" />
<line x1="505.80" y1="250.00" x2="505.80" y2="262.00" stroke="#555" stroke-width="0.6" />
<line x1="504.60" y1="250.00" x2="507.00" y2="250.00" stroke="#555" stroke-width="0.6" />
<line x1="504.60" y1="262.00" x2="507.00" y2="262.00" stroke="#555" stroke-width="0.6" />
<line x1="507.70" y1="285.60" x2="507.70" y2="291.00" stroke="#8888ff" stroke-width="0.6" />
<line x1="506.50" y1="285.60" x2="508.90" y2="285.60" stroke="#8888ff" stroke-width="0.6" />
<line x1="506.50" y1="291.00" x2="508.90" y2="291.00" stroke="#8888ff" stroke-width="0.6" />
<line x1="516.90" y1="263.20" x2="516.90" y2="270.00" stroke="#555" stroke-width="0.6" />
<line x1="515.70" y1="263.20" x2="518.10" y2="263.20" stroke="#555" stroke-width="0.6" />
<line x1="515.70" y1="270.00" x2="518.10" y2="270.00" stroke="#555" stroke-width="0.6" />
<line x1="543.20" y1="262.50" x2="543.20" y2="270.00" stroke="#555" stroke-width="0.6" />
<line x1="542.00" y1="262.50" x2="544.40" y2="262.50" stroke="#555" stroke-width="0.6" />
<line x1="542.00" y1="270.00" x2="544.40" y2="270.00" stroke="#555" stroke-width="0.6" />
<line x1="554.10" y1="263.20" x2="554.10" y2="272.00" stroke="#555" stroke-width="0.6" />
<line x1="552.90" y1="263.20" x2="555.30" y2="263.20" stroke="#555" stroke-width="0.6" />
<line x1="552.90" y1="272.00" x2="555.30" y2="272.00" stroke="#555" stroke-width="0.6" />
<line x1="553.80" y1="284.00" x2="553.80" y2="289.50" stroke="#8888ff" stroke-width="0.6" />
<line x1="552.60" y1="284.00" x2="555.00" y2="284.00" stroke="#8888ff" stroke-width="0.6" />
<line x1="552.60" y1="289.50" x2="555.00" y2="289.50" stroke="#8888ff" stroke-width="0.6" />
<line x1="507.60" y1="285.50" x2="507.60" y2="291.00" stroke="#8888ff" stroke-width="0.6" />
<line x1="506.40" y1="285.50" x2="508.80" y2="285.50" stroke="#8888ff" stroke-width="0.6" />
<line x1="506.40" y1="291.00" x2="508.80" y2="291.00" stroke="#8888ff" stroke-width="0.6" />
<line x1="498.50" y1="264.50" x2="498.50" y2="270.00" stroke="#555" stroke-width="0.6" />
<line x1="497.30" y1="264.50" x2="499.70" y2="264.50" stroke="#555" stroke-width="0.6" />
<line x1="497.30" y1="270.00" x2="499.70" y2="270.00" stroke="#555" stroke-width="0.6" />
<line x1="523.50" y1="269.50" x2="523.50" y2="275.00" stroke="#555" stroke-width="0.6" />
<line x1="522.30" y1="269.50" x2="524.70" y2="269.50" stroke="#555" stroke-width="0.6" />
<line x1="522.30" y1="275.00" x2="524.70" y2="275.00" stroke="#555" stroke-width="0.6" />
<circle cx="461.60" cy="273.70" r="1.8" fill="#1a1a1a"/>
<circle cx="464.00" cy="281.00" r="1.76" fill="#ff0000"/>
<path d="M473.50,268.32 L475.48,271.75 L471.52,271.75 Z" fill="#0000ff"/>
<circle cx="478.10" cy="269.80" r="1.8" fill="#1a1a1a"/>
<circle cx="474.80" cy="274.40" r="1.76" fill="#ff0000"/>
<circle cx="480.00" cy="273.70" r="1.76" fill="#ff0000"/>
<circle cx="484.70" cy="267.10" r="1.8" fill="#1a1a1a"/>
<circle cx="488.60" cy="266.50" r="1.8" fill="#1a1a1a"/>
<circle cx="491.90" cy="264.50" r="1.8" fill="#1a1a1a"/>
<circle cx="494.60" cy="265.20" r="1.8" fill="#1a1a1a"/>
<circle cx="486.60" cy="274.40" r="1.76" fill="#ff0000"/>
<circle cx="484.70" cy="275.00" r="1.76" fill="#ff0000"/>
<path d="M488.60,274.92 L490.58,278.35 L486.62,278.35 Z" fill="#0000ff"/>
<circle cx="491.90" cy="269.10" r="1.76" fill="#ff0000"/>
<path d="M490.60,269.02 L492.58,272.45 L488.62,272.45 Z" fill="#0000ff"/>
<circle cx="498.50" cy="267.10" r="1.8" fill="#1a1a1a"/>
<circle cx="495.90" cy="274.40" r="1.76" fill="#ff0000"/>
<circle cx="499.80" cy="272.40" r="1.76" fill="#ff0000"/>
<path d="M495.90,273.62 L497.88,277.05 L493.92,277.05 Z" fill="#0000ff"/>
<path d="M500.50,274.32 L502.48,277.75 L498.52,277.75 Z" fill="#0000ff"/>
<circle cx="501.80" cy="258.60" r="1.8" fill="#1a1a1a"/>
<circle cx="505.80" cy="258.60" r="1.8" fill="#1a1a1a"/>
<circle cx="505.80" cy="261.90" r="1.76" fill="#ff0000"/>
<circle cx="503.80" cy="267.80" r="1.8" fill="#1a1a1a"/>
<circle cx="503.80" cy="271.10" r="1.76" fill="#ff0000"/>
<path d="M505.10,276.32 L507.08,279.75 L503.12,279.75 Z" fill="#0000ff"/>
<path d="M509.10,279.52 L511.08,282.95 L507.12,282.95 Z" fill="#0000ff"/>
<path d="M507.70,286.12 L509.68,289.55 L505.72,289.55 Z" fill="#0000ff"/>
<circle cx="508.40" cy="267.10" r="1.8" fill="#1a1a1a"/>
<circle cx="510.40" cy="271.10" r="1.76" fill="#ff0000"/>
<path d="M513.00,274.32 L514.98,277.75 L511.02,277.75 Z" fill="#0000ff"/>
<circle cx="513.00" cy="268.50" r="1.8" fill="#1a1a1a"/>
<circle cx="508.30" cy="267.10" r="1.8" fill="#1a1a1a"/>
<circle cx="507.60" cy="271.10" r="1.76" fill="#ff0000"/>
<circle cx="512.90" cy="270.40" r="1.8" fill="#1a1a1a"/>
<circle cx="512.30" cy="273.10" r="1.76" fill="#ff0000"/>
<circle cx="516.90" cy="267.10" r="1.8" fill="#1a1a1a"/>
<path d="M519.50,267.72 L521.48,271.15 L517.52,271.15 Z" fill="#0000ff"/>
<circle cx="518.20" cy="272.40" r="1.76" fill="#ff0000"/>
<path d="M507.60,275.62 L509.58,279.05 L505.62,279.05 Z" fill="#0000ff"/>
<path d="M510.30,278.92 L512.28,282.35 L508.32,282.35 Z" fill="#0000ff"/>
<path d="M514.20,276.32 L516.18,279.75 L512.22,279.75 Z" fill="#0000ff"/>
<path d="M518.20,277.62 L520.18,281.05 L516.22,281.05 Z" fill="#0000ff"/>
<circle cx="519.50" cy="276.40" r="1.8" fill="#1a1a1a"/>
<path d="M522.10,278.22 L524.08,281.65 L520.12,281.65 Z" fill="#0000ff"/>
<circle cx="523.50" cy="272.40" r="1.8" fill="#1a1a1a"/>
<circle cx="525.40" cy="276.40" r="1.76" fill="#ff0000"/>
<circle cx="526.10" cy="275.70" r="1.8" fill="#1a1a1a"/>
<path d="M526.10,276.32 L528.08,279.75 L524.12,279.75 Z" fill="#0000ff"/>
<circle cx="530.10" cy="273.70" r="1.76" fill="#ff0000"/>
<circle cx="530.70" cy="272.40" r="1.8" fill="#1a1a1a"/>
<path d="M533.40,271.02 L535.38,274.45 L531.42,274.45 Z" fill="#0000ff"/>
<path d="M536.60,276.32 L538.58,279.75 L534.62,279.75 Z" fill="#0000ff"/>
<circle cx="539.60" cy="281.60" r="1.76" fill="#ff0000"/>
<circle cx="543.20" cy="266.50" r="1.8" fill="#1a1a1a"/>
<path d="M542.60,274.32 L544.58,277.75 L540.62,277.75 Z" fill="#0000ff"/>
<path d="M545.20,278.92 L547.18,282.35 L543.22,282.35 Z" fill="#0000ff"/>
<path d="M549.20,275.62 L551.18,279.05 L547.22,279.05 Z" fill="#0000ff"/>
<circle cx="554.10" cy="268.50" r="1.8" fill="#1a1a1a"/>
<path d="M553.80,284.82 L555.78,288.25 L551.82,288.25 Z" fill="#0000ff"/>
<path d="M563.70,268.32 L565.68,271.75 L561.72,271.75 Z" fill="#0000ff"/>
<circle cx="496.50" cy="270.50" r="1.76" fill="#ff0000"/>
<circle cx="501.50" cy="273.50" r="1.76" fill="#ff0000"/>
<circle cx="497.00" cy="270.00" r="1.8" fill="#1a1a1a"/>
<circle cx="515.50" cy="275.00" r="1.76" fill="#ff0000"/>
<circle cx="521.00" cy="275.50" r="1.76" fill="#ff0000"/>
<path d="M446.5,180.5 H567.5 V308.5 H446.5" fill="none" stroke="#000" stroke-width="0.9"/>
<line x1="446.50" y1="180.50" x2="446.50" y2="308.50" stroke="#555" stroke-width="1.3" />
<line x1="446.00" y1="308.50" x2="446.00" y2="310.50" stroke="#000" stroke-width="0.7" />
<text x="446.00" y="320.30" font-size="9" text-anchor="middle" fill="#111" font-weight="normal" font-style="normal" transform="translate(0 320.30) scale(1 1.07) translate(0 -320.30)"  stroke="#111" stroke-width="0.25">1</text>
<line x1="506.80" y1="308.50" x2="506.80" y2="310.50" stroke="#000" stroke-width="0.7" />
<text x="506.80" y="320.30" font-size="9" text-anchor="middle" fill="#111" font-weight="normal" font-style="normal" transform="translate(0 320.30) scale(1 1.07) translate(0 -320.30)"  stroke="#111" stroke-width="0.25">10</text>
<line x1="567.60" y1="308.50" x2="567.60" y2="310.50" stroke="#000" stroke-width="0.7" />
<text x="567.60" y="320.30" font-size="9" text-anchor="middle" fill="#111" font-weight="normal" font-style="normal" transform="translate(0 320.30) scale(1 1.07) translate(0 -320.30)"  stroke="#111" stroke-width="0.25">100</text>
<line x1="464.30" y1="308.50" x2="464.30" y2="309.70" stroke="#000" stroke-width="0.6" />
<line x1="464.30" y1="180.50" x2="464.30" y2="181.70" stroke="#000" stroke-width="0.6" />
<line x1="475.01" y1="308.50" x2="475.01" y2="309.70" stroke="#000" stroke-width="0.6" />
<line x1="475.01" y1="180.50" x2="475.01" y2="181.70" stroke="#000" stroke-width="0.6" />
<line x1="482.61" y1="308.50" x2="482.61" y2="309.70" stroke="#000" stroke-width="0.6" />
<line x1="482.61" y1="180.50" x2="482.61" y2="181.70" stroke="#000" stroke-width="0.6" />
<line x1="488.50" y1="308.50" x2="488.50" y2="309.70" stroke="#000" stroke-width="0.6" />
<line x1="488.50" y1="180.50" x2="488.50" y2="181.70" stroke="#000" stroke-width="0.6" />
<line x1="493.31" y1="308.50" x2="493.31" y2="309.70" stroke="#000" stroke-width="0.6" />
<line x1="493.31" y1="180.50" x2="493.31" y2="181.70" stroke="#000" stroke-width="0.6" />
<line x1="497.38" y1="308.50" x2="497.38" y2="309.70" stroke="#000" stroke-width="0.6" />
<line x1="497.38" y1="180.50" x2="497.38" y2="181.70" stroke="#000" stroke-width="0.6" />
<line x1="500.91" y1="308.50" x2="500.91" y2="309.70" stroke="#000" stroke-width="0.6" />
<line x1="500.91" y1="180.50" x2="500.91" y2="181.70" stroke="#000" stroke-width="0.6" />
<line x1="504.02" y1="308.50" x2="504.02" y2="309.70" stroke="#000" stroke-width="0.6" />
<line x1="504.02" y1="180.50" x2="504.02" y2="181.70" stroke="#000" stroke-width="0.6" />
<line x1="525.10" y1="308.50" x2="525.10" y2="309.70" stroke="#000" stroke-width="0.6" />
<line x1="525.10" y1="180.50" x2="525.10" y2="181.70" stroke="#000" stroke-width="0.6" />
<line x1="535.81" y1="308.50" x2="535.81" y2="309.70" stroke="#000" stroke-width="0.6" />
<line x1="535.81" y1="180.50" x2="535.81" y2="181.70" stroke="#000" stroke-width="0.6" />
<line x1="543.41" y1="308.50" x2="543.41" y2="309.70" stroke="#000" stroke-width="0.6" />
<line x1="543.41" y1="180.50" x2="543.41" y2="181.70" stroke="#000" stroke-width="0.6" />
<line x1="549.30" y1="308.50" x2="549.30" y2="309.70" stroke="#000" stroke-width="0.6" />
<line x1="549.30" y1="180.50" x2="549.30" y2="181.70" stroke="#000" stroke-width="0.6" />
<line x1="554.11" y1="308.50" x2="554.11" y2="309.70" stroke="#000" stroke-width="0.6" />
<line x1="554.11" y1="180.50" x2="554.11" y2="181.70" stroke="#000" stroke-width="0.6" />
<line x1="558.18" y1="308.50" x2="558.18" y2="309.70" stroke="#000" stroke-width="0.6" />
<line x1="558.18" y1="180.50" x2="558.18" y2="181.70" stroke="#000" stroke-width="0.6" />
<line x1="561.71" y1="308.50" x2="561.71" y2="309.70" stroke="#000" stroke-width="0.6" />
<line x1="561.71" y1="180.50" x2="561.71" y2="181.70" stroke="#000" stroke-width="0.6" />
<line x1="564.82" y1="308.50" x2="564.82" y2="309.70" stroke="#000" stroke-width="0.6" />
<line x1="564.82" y1="180.50" x2="564.82" y2="181.70" stroke="#000" stroke-width="0.6" />
<line x1="444.50" y1="308.30" x2="446.50" y2="308.30" stroke="#000" stroke-width="0.7" />
<line x1="565.50" y1="308.30" x2="567.50" y2="308.30" stroke="#000" stroke-width="0.7" />
<text x="442.50" y="311.40" font-size="9" text-anchor="end" fill="#111" font-weight="normal" font-style="normal" transform="translate(0 311.40) scale(1 1.07) translate(0 -311.40)"  stroke="#111" stroke-width="0.25">1</text>
<line x1="444.50" y1="244.90" x2="446.50" y2="244.90" stroke="#000" stroke-width="0.7" />
<line x1="565.50" y1="244.90" x2="567.50" y2="244.90" stroke="#000" stroke-width="0.7" />
<text x="442.50" y="248.00" font-size="9" text-anchor="end" fill="#111" font-weight="normal" font-style="normal" transform="translate(0 248.00) scale(1 1.07) translate(0 -248.00)"  stroke="#111" stroke-width="0.25">2</text>
<line x1="444.50" y1="181.50" x2="446.50" y2="181.50" stroke="#000" stroke-width="0.7" />
<line x1="565.50" y1="181.50" x2="567.50" y2="181.50" stroke="#000" stroke-width="0.7" />
<text x="442.50" y="184.60" font-size="9" text-anchor="end" fill="#111" font-weight="normal" font-style="normal" transform="translate(0 184.60) scale(1 1.07) translate(0 -184.60)"  stroke="#111" stroke-width="0.25">3</text>
<line x1="445.30" y1="276.60" x2="446.50" y2="276.60" stroke="#000" stroke-width="0.6" />
<line x1="566.30" y1="276.60" x2="567.50" y2="276.60" stroke="#000" stroke-width="0.6" />
<line x1="445.30" y1="213.20" x2="446.50" y2="213.20" stroke="#000" stroke-width="0.6" />
<line x1="566.30" y1="213.20" x2="567.50" y2="213.20" stroke="#000" stroke-width="0.6" />
<rect x="446.50" y="180.50" width="18.50" height="16.30" fill="#000" />
<text x="455.75" y="193.60" font-size="14.6" text-anchor="middle" fill="#fff" font-weight="bold" font-style="normal"  transform="translate(0 193.60) scale(1 1.08) translate(0 -193.60)">H</text>
<rect x="510.99" y="187.28" width="3.23" height="3.23" fill="#2a2a2a" />
<circle cx="512.60" cy="197.60" r="1.98" fill="#ff0000"/>
<path d="M512.60,204.57 L514.63,208.09 L510.57,208.09 Z" fill="#0000ff"/>
<text x="521.7" y="191.1" font-size="6.2" fill="#111" stroke="#111" stroke-width="0.18" transform="translate(0 191.10) scale(1 1.08) translate(0 -191.10)">Fe<tspan dy="1.5" font-size="4.3">2</tspan><tspan dy="-1.5">P</tspan><tspan dy="1.5" font-size="4.3">2</tspan><tspan dy="-1.5">S</tspan><tspan dy="1.5" font-size="4.3">6</tspan><tspan dy="-1.5"> (CHP)</tspan></text>
<text x="521.7" y="199.8" font-size="6.2" fill="#111" stroke="#111" stroke-width="0.18" transform="translate(0 199.80) scale(1 1.08) translate(0 -199.80)">Ni<tspan dy="1.5" font-size="4.3">2</tspan><tspan dy="-1.5">P</tspan><tspan dy="1.5" font-size="4.3">2</tspan><tspan dy="-1.5">S</tspan><tspan dy="1.5" font-size="4.3">6</tspan><tspan dy="-1.5"> (CHP)</tspan></text>
<text x="521.7" y="208.9" font-size="6.2" fill="#111" stroke="#111" stroke-width="0.18" transform="translate(0 208.90) scale(1 1.08) translate(0 -208.90)">Mn<tspan dy="1.5" font-size="4.3">2</tspan><tspan dy="-1.5">P</tspan><tspan dy="1.5" font-size="4.3">2</tspan><tspan dy="-1.5">S</tspan><tspan dy="1.5" font-size="4.3">6</tspan><tspan dy="-1.5"> (CHP)</tspan></text>
<text x="506.80" y="334.70" font-size="9.5" text-anchor="middle" fill="#111" font-weight="normal" font-style="normal"  stroke="#111" stroke-width="0.25" transform="translate(0 334.70) scale(1 1.08) translate(0 -334.70)">Mean Layer Number, &lt;N&gt;</text>
<text x="0" y="0" font-size="9.5" text-anchor="middle" fill="#111" transform="translate(420.2 246.5) rotate(-90)" stroke="#111" stroke-width="0.25">Aspect ratio, &lt;LW<tspan dy="-3" font-size="6.5">-1</tspan><tspan dy="3">&gt;</tspan></text></svg>
</body></html>
